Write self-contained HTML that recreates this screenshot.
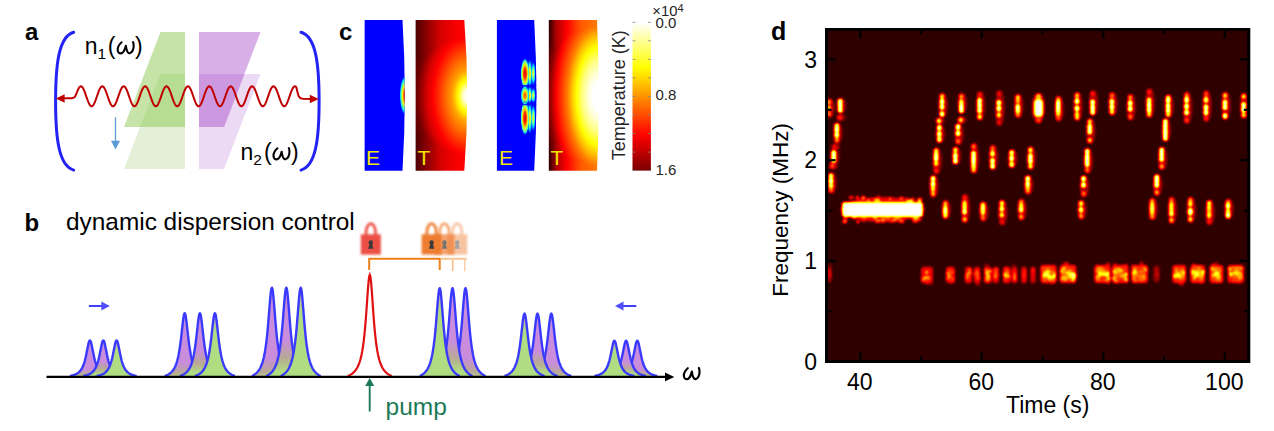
<!DOCTYPE html><html><head><meta charset="utf-8"><style>html,body{margin:0;padding:0;background:#fff;font-family:"Liberation Sans", sans-serif;}svg{display:block;}</style></head><body><svg width="1274" height="431" viewBox="0 0 1274 431"><defs><linearGradient id="gp1" x1="0" y1="0" x2="0" y2="1"><stop offset="0" stop-color="#c98ddc"/><stop offset="0.8" stop-color="#c98ddc"/><stop offset="0.95" stop-color="#b8aa94"/><stop offset="1" stop-color="#bcc48e"/></linearGradient><linearGradient id="gp2" x1="0" y1="0" x2="0" y2="1"><stop offset="0" stop-color="#c98ddc"/><stop offset="0.6" stop-color="#c98ddc"/><stop offset="0.8" stop-color="#b8aa94"/><stop offset="0.95" stop-color="#b0dd82"/><stop offset="1" stop-color="#b0dd82"/></linearGradient><linearGradient id="gp3" x1="0" y1="0" x2="0" y2="1"><stop offset="0" stop-color="#c7a6c4"/><stop offset="0.12" stop-color="#c0b6a8"/><stop offset="0.25" stop-color="#b0dd82"/><stop offset="1" stop-color="#b0dd82"/></linearGradient><linearGradient id="gq1" x1="0" y1="0" x2="0" y2="1"><stop offset="0" stop-color="#c7a6c4"/><stop offset="0.12" stop-color="#c0b6a8"/><stop offset="0.25" stop-color="#b0dd82"/><stop offset="1" stop-color="#b0dd82"/></linearGradient><linearGradient id="gq2" x1="0" y1="0" x2="0" y2="1"><stop offset="0" stop-color="#c98ddc"/><stop offset="0.6" stop-color="#c98ddc"/><stop offset="0.8" stop-color="#b8aa94"/><stop offset="0.95" stop-color="#b0dd82"/><stop offset="1" stop-color="#b0dd82"/></linearGradient><linearGradient id="gq3" x1="0" y1="0" x2="0" y2="1"><stop offset="0" stop-color="#c98ddc"/><stop offset="0.8" stop-color="#c98ddc"/><stop offset="0.95" stop-color="#b8aa94"/><stop offset="1" stop-color="#bcc48e"/></linearGradient><filter id="blur1" x="-20%" y="-20%" width="140%" height="140%"><feGaussianBlur stdDeviation="0.9"/></filter><clipPath id="ce1"><path d="M364.6,19.9 L402.5,19.9 Q407.1,95.3 402.5,170.7 L364.6,170.7 Z"/></clipPath><clipPath id="ce2"><path d="M496.9,19.9 L534.2,19.9 Q538.5999999999999,95.3 534.2,170.7 L496.9,170.7 Z"/></clipPath><clipPath id="ct1"><path d="M415.6,19.9 L464.3,19.9 Q470.09999999999997,95.3 464.3,170.7 L415.6,170.7 Z"/></clipPath><clipPath id="ct2"><path d="M548.8,19.9 L597,19.9 Q600.5999999999999,95.3 597,170.7 L548.8,170.7 Z"/></clipPath><radialGradient id="jg1"><stop offset="0.000" stop-color="#ff3800" stop-opacity="1"/><stop offset="0.300" stop-color="#ff8000" stop-opacity="1"/><stop offset="0.450" stop-color="#fffa00" stop-opacity="1"/><stop offset="0.600" stop-color="#8aff75" stop-opacity="1"/><stop offset="0.800" stop-color="#00e5ff" stop-opacity="1"/><stop offset="1.000" stop-color="#0000ff" stop-opacity="0"/></radialGradient><radialGradient id="jg1b"><stop offset="0.000" stop-color="#e50000" stop-opacity="1"/><stop offset="0.300" stop-color="#ff2e00" stop-opacity="1"/><stop offset="0.450" stop-color="#ffa800" stop-opacity="1"/><stop offset="0.600" stop-color="#dbff24" stop-opacity="1"/><stop offset="0.800" stop-color="#38ffc7" stop-opacity="1"/><stop offset="1.000" stop-color="#0000ff" stop-opacity="0"/></radialGradient><radialGradient id="jg2"><stop offset="0.000" stop-color="#ff4c00" stop-opacity="1"/><stop offset="0.300" stop-color="#ff9400" stop-opacity="1"/><stop offset="0.450" stop-color="#f0ff0f" stop-opacity="1"/><stop offset="0.600" stop-color="#75ff8a" stop-opacity="1"/><stop offset="0.800" stop-color="#00d1ff" stop-opacity="1"/><stop offset="1.000" stop-color="#0000ff" stop-opacity="0"/></radialGradient><radialGradient id="jg3"><stop offset="0.000" stop-color="#ffc700" stop-opacity="1"/><stop offset="0.300" stop-color="#f0ff0f" stop-opacity="1"/><stop offset="0.450" stop-color="#75ff8a" stop-opacity="1"/><stop offset="0.600" stop-color="#00faff" stop-opacity="1"/><stop offset="0.800" stop-color="#0057ff" stop-opacity="1"/><stop offset="1.000" stop-color="#0000ff" stop-opacity="0"/></radialGradient><radialGradient id="jg4"><stop offset="0.000" stop-color="#e5ff1a" stop-opacity="1"/><stop offset="0.300" stop-color="#9eff61" stop-opacity="1"/><stop offset="0.450" stop-color="#24ffdb" stop-opacity="1"/><stop offset="0.600" stop-color="#00a8ff" stop-opacity="1"/><stop offset="0.800" stop-color="#0005ff" stop-opacity="1"/><stop offset="1.000" stop-color="#0000ff" stop-opacity="0"/></radialGradient><radialGradient id="jg5"><stop offset="0.000" stop-color="#80ff80" stop-opacity="1"/><stop offset="0.300" stop-color="#38ffc7" stop-opacity="1"/><stop offset="0.450" stop-color="#00bdff" stop-opacity="1"/><stop offset="0.600" stop-color="#0042ff" stop-opacity="1"/><stop offset="0.800" stop-color="#0000ff" stop-opacity="1"/><stop offset="1.000" stop-color="#0000ff" stop-opacity="0"/></radialGradient><radialGradient id="ht1" gradientUnits="userSpaceOnUse" cx="467.2" cy="96" r="70" gradientTransform="translate(467.2 96) scale(1 1.7) translate(-467.2 -96)"><stop offset="0.0000" stop-color="#ffffff"/><stop offset="0.0500" stop-color="#ffffe0"/><stop offset="0.0857" stop-color="#ffff7a"/><stop offset="0.1286" stop-color="#ffff00"/><stop offset="0.2143" stop-color="#ffa000"/><stop offset="0.3086" stop-color="#ff6a00"/><stop offset="0.4043" stop-color="#ff3000"/><stop offset="0.4886" stop-color="#ff0000"/><stop offset="0.5743" stop-color="#d80000"/><stop offset="0.6471" stop-color="#a00000"/><stop offset="0.7143" stop-color="#700000"/><stop offset="0.8571" stop-color="#440000"/><stop offset="1.0000" stop-color="#220000"/></radialGradient><radialGradient id="ht2" gradientUnits="userSpaceOnUse" cx="598.6" cy="96" r="70" gradientTransform="translate(598.6 96) scale(1 2.2) translate(-598.6 -96)"><stop offset="0.0000" stop-color="#ffffff"/><stop offset="0.0857" stop-color="#ffffff"/><stop offset="0.1486" stop-color="#ffffd6"/><stop offset="0.2329" stop-color="#ffff80"/><stop offset="0.3171" stop-color="#ffff00"/><stop offset="0.3814" stop-color="#ffc200"/><stop offset="0.4443" stop-color="#ff7e00"/><stop offset="0.5186" stop-color="#ff4100"/><stop offset="0.6043" stop-color="#ff0000"/><stop offset="0.6571" stop-color="#be0000"/><stop offset="0.7057" stop-color="#810000"/><stop offset="0.7857" stop-color="#440000"/><stop offset="0.8857" stop-color="#140000"/><stop offset="1.0000" stop-color="#000000"/></radialGradient><linearGradient id="fl1" gradientUnits="userSpaceOnUse" x1="415.6" y1="0" x2="467.5" y2="0"><stop offset="0.000" stop-color="#4b0000"/><stop offset="0.181" stop-color="#810000"/><stop offset="0.470" stop-color="#d30000"/><stop offset="0.759" stop-color="#f50000"/><stop offset="1.000" stop-color="#ff0300"/></linearGradient><linearGradient id="fl2" gradientUnits="userSpaceOnUse" x1="548.8" y1="0" x2="598.8" y2="0"><stop offset="0.000" stop-color="#290000"/><stop offset="0.144" stop-color="#aa0000"/><stop offset="0.364" stop-color="#ff0000"/><stop offset="0.624" stop-color="#ff5500"/><stop offset="1.000" stop-color="#ff7e00"/></linearGradient><linearGradient id="cbar" x1="0" y1="0" x2="0" y2="1"><stop offset="0.0" stop-color="#ffffff"/><stop offset="0.05" stop-color="#ffffd5"/><stop offset="0.1" stop-color="#ffffab"/><stop offset="0.15" stop-color="#ffff82"/><stop offset="0.2" stop-color="#ffff58"/><stop offset="0.25" stop-color="#ffff2e"/><stop offset="0.3" stop-color="#ffff04"/><stop offset="0.35" stop-color="#ffe600"/><stop offset="0.4" stop-color="#ffca00"/><stop offset="0.45" stop-color="#ffae00"/><stop offset="0.5" stop-color="#ff9200"/><stop offset="0.55" stop-color="#ff7600"/><stop offset="0.6" stop-color="#ff5a00"/><stop offset="0.65" stop-color="#ff3f00"/><stop offset="0.7" stop-color="#ff2300"/><stop offset="0.75" stop-color="#ff0700"/><stop offset="0.8" stop-color="#ea0000"/><stop offset="0.85" stop-color="#ce0000"/><stop offset="0.9" stop-color="#b20000"/><stop offset="0.95" stop-color="#960000"/><stop offset="1.0" stop-color="#7a0000"/></linearGradient><filter id="hotmap" x="826.5" y="29.5" width="422.29999999999995" height="332.0" filterUnits="userSpaceOnUse" color-interpolation-filters="sRGB"><feGaussianBlur stdDeviation="1.05"/><feComponentTransfer><feFuncR type="table" tableValues="0.187 0.249 0.311 0.373 0.435 0.497 0.559 0.621 0.683 0.745 0.807 0.869 0.931 0.993 1.000 1.000 1.000 1.000 1.000 1.000 1.000 1.000 1.000 1.000 1.000 1.000 1.000 1.000 1.000 1.000 1.000 1.000 1.000 1.000 1.000 1.000 1.000 1.000 1.000 1.000 1.000"/><feFuncG type="table" tableValues="0.000 0.000 0.000 0.000 0.000 0.000 0.000 0.000 0.000 0.000 0.000 0.000 0.000 0.000 0.055 0.117 0.179 0.241 0.303 0.365 0.427 0.489 0.551 0.613 0.675 0.737 0.799 0.861 0.923 0.985 1.000 1.000 1.000 1.000 1.000 1.000 1.000 1.000 1.000 1.000 1.000"/><feFuncB type="table" tableValues="0.000 0.000 0.000 0.000 0.000 0.000 0.000 0.000 0.000 0.000 0.000 0.000 0.000 0.000 0.000 0.000 0.000 0.000 0.000 0.000 0.000 0.000 0.000 0.000 0.000 0.000 0.000 0.000 0.000 0.000 0.070 0.163 0.256 0.349 0.442 0.535 0.628 0.721 0.814 0.907 1.000"/><feFuncA type="table" tableValues="1 1"/></feComponentTransfer></filter></defs><text x="25" y="39.5" font-family="Liberation Sans, sans-serif" font-weight="bold" font-size="24" fill="#000">a</text><polygon points="160.5,74 185,74 185,169 124,169" fill="#e3f0d7" /><polygon points="160.5,32 185,32 185,127 124,127" fill="#c6e3a8" /><clipPath id="cga"><polygon points="160.5,32 185,32 185,127 124,127" fill="#000" /></clipPath><g clip-path="url(#cga)"><polygon points="160.5,74 185,74 185,169 124,169" fill="#b6dd92" /></g><polygon points="199,74 260.5,74 224,169 199,169" fill="#ecd9f4" /><polygon points="199,32 260.5,32 224,127 199,127" fill="#d8b0e7" /><clipPath id="cpa"><polygon points="199,32 260.5,32 224,127 199,127" fill="#000" /></clipPath><g clip-path="url(#cpa)"><polygon points="199,74 260.5,74 224,169 199,169" fill="#cc99e1" /></g><path d="M73.7,32.3 C58.6,36.5 55.6,64.6 55.6,101.2 C55.6,137.8 58.6,165.9 73.7,170.1" fill="none" stroke="#2323f5" stroke-width="3" stroke-linecap="round"/><path d="M301,32.3 C316.1,36.5 319.1,64.6 319.1,101.2 C319.1,137.8 316.1,165.9 301,170.1" fill="none" stroke="#2323f5" stroke-width="3" stroke-linecap="round"/><path d="M63,98.3 L71.5,98.3 C75,98.3 75.5,96 76.8,92.5 L76.80,92.71 L77.30,91.38 L77.80,90.16 L78.30,89.07 L78.80,88.14 L79.30,87.38 L79.80,86.82 L80.30,86.45 L80.80,86.30 L81.30,86.37 L81.80,86.65 L82.30,87.13 L82.80,87.82 L83.30,88.68 L83.80,89.71 L84.30,90.88 L84.80,92.17 L85.30,93.55 L85.80,94.98 L86.30,96.45 L86.80,97.91 L87.30,99.33 L87.80,100.70 L88.30,101.96 L88.80,103.11 L89.30,104.11 L89.80,104.94 L90.30,105.58 L90.80,106.03 L91.30,106.26 L91.80,106.28 L92.30,106.09 L92.80,105.69 L93.30,105.08 L93.80,104.29 L94.30,103.32 L94.80,102.20 L95.30,100.96 L95.80,99.61 L96.30,98.20 L96.80,96.74 L97.30,95.27 L97.80,93.83 L98.30,92.44 L98.80,91.13 L99.30,89.93 L99.80,88.88 L100.30,87.98 L100.80,87.25 L101.30,86.73 L101.80,86.41 L102.30,86.30 L102.80,86.41 L103.30,86.73 L103.80,87.25 L104.30,87.98 L104.80,88.88 L105.30,89.93 L105.80,91.13 L106.30,92.44 L106.80,93.83 L107.30,95.27 L107.80,96.74 L108.30,98.20 L108.80,99.61 L109.30,100.96 L109.80,102.20 L110.30,103.32 L110.80,104.29 L111.30,105.08 L111.80,105.69 L112.30,106.09 L112.80,106.28 L113.30,106.26 L113.80,106.03 L114.30,105.58 L114.80,104.94 L115.30,104.11 L115.80,103.11 L116.30,101.96 L116.80,100.70 L117.30,99.33 L117.80,97.91 L118.30,96.45 L118.80,94.98 L119.30,93.55 L119.80,92.17 L120.30,90.88 L120.80,89.71 L121.30,88.68 L121.80,87.82 L122.30,87.13 L122.80,86.65 L123.30,86.37 L123.80,86.30 L124.30,86.45 L124.80,86.82 L125.30,87.38 L125.80,88.14 L126.30,89.07 L126.80,90.16 L127.30,91.38 L127.80,92.71 L128.30,94.12 L128.80,95.57 L129.30,97.03 L129.80,98.48 L130.30,99.89 L130.80,101.22 L131.30,102.44 L131.80,103.53 L132.30,104.46 L132.80,105.22 L133.30,105.78 L133.80,106.15 L134.30,106.30 L134.80,106.23 L135.30,105.95 L135.80,105.47 L136.30,104.78 L136.80,103.92 L137.30,102.89 L137.80,101.72 L138.30,100.43 L138.80,99.05 L139.30,97.62 L139.80,96.15 L140.30,94.69 L140.80,93.27 L141.30,91.90 L141.80,90.64 L142.30,89.49 L142.80,88.49 L143.30,87.66 L143.80,87.02 L144.30,86.57 L144.80,86.34 L145.30,86.32 L145.80,86.51 L146.30,86.91 L146.80,87.52 L147.30,88.31 L147.80,89.28 L148.30,90.40 L148.80,91.64 L149.30,92.99 L149.80,94.40 L150.30,95.86 L150.80,97.33 L151.30,98.77 L151.80,100.16 L152.30,101.47 L152.80,102.67 L153.30,103.72 L153.80,104.62 L154.30,105.35 L154.80,105.87 L155.30,106.19 L155.80,106.30 L156.30,106.19 L156.80,105.87 L157.30,105.35 L157.80,104.62 L158.30,103.72 L158.80,102.67 L159.30,101.47 L159.80,100.16 L160.30,98.77 L160.80,97.33 L161.30,95.86 L161.80,94.40 L162.30,92.99 L162.80,91.64 L163.30,90.40 L163.80,89.28 L164.30,88.31 L164.80,87.52 L165.30,86.91 L165.80,86.51 L166.30,86.32 L166.80,86.34 L167.30,86.57 L167.80,87.02 L168.30,87.66 L168.80,88.49 L169.30,89.49 L169.80,90.64 L170.30,91.90 L170.80,93.27 L171.30,94.69 L171.80,96.15 L172.30,97.62 L172.80,99.05 L173.30,100.43 L173.80,101.72 L174.30,102.89 L174.80,103.92 L175.30,104.78 L175.80,105.47 L176.30,105.95 L176.80,106.23 L177.30,106.30 L177.80,106.15 L178.30,105.78 L178.80,105.22 L179.30,104.46 L179.80,103.53 L180.30,102.44 L180.80,101.22 L181.30,99.89 L181.80,98.48 L182.30,97.03 L182.80,95.57 L183.30,94.12 L183.80,92.71 L184.30,91.38 L184.80,90.16 L185.30,89.07 L185.80,88.14 L186.30,87.38 L186.80,86.82 L187.30,86.45 L187.80,86.30 L188.30,86.37 L188.80,86.65 L189.30,87.13 L189.80,87.82 L190.30,88.68 L190.80,89.71 L191.30,90.88 L191.80,92.17 L192.30,93.55 L192.80,94.98 L193.30,96.45 L193.80,97.91 L194.30,99.33 L194.80,100.70 L195.30,101.96 L195.80,103.11 L196.30,104.11 L196.80,104.94 L197.30,105.58 L197.80,106.03 L198.30,106.26 L198.80,106.28 L199.30,106.09 L199.80,105.69 L200.30,105.08 L200.80,104.29 L201.30,103.32 L201.80,102.20 L202.30,100.96 L202.80,99.61 L203.30,98.20 L203.80,96.74 L204.30,95.27 L204.80,93.83 L205.30,92.44 L205.80,91.13 L206.30,89.93 L206.80,88.88 L207.30,87.98 L207.80,87.25 L208.30,86.73 L208.80,86.41 L209.30,86.30 L209.80,86.41 L210.30,86.73 L210.80,87.25 L211.30,87.98 L211.80,88.88 L212.30,89.93 L212.80,91.13 L213.30,92.44 L213.80,93.83 L214.30,95.27 L214.80,96.74 L215.30,98.20 L215.80,99.61 L216.30,100.96 L216.80,102.20 L217.30,103.32 L217.80,104.29 L218.30,105.08 L218.80,105.69 L219.30,106.09 L219.80,106.28 L220.30,106.26 L220.80,106.03 L221.30,105.58 L221.80,104.94 L222.30,104.11 L222.80,103.11 L223.30,101.96 L223.80,100.70 L224.30,99.33 L224.80,97.91 L225.30,96.45 L225.80,94.98 L226.30,93.55 L226.80,92.17 L227.30,90.88 L227.80,89.71 L228.30,88.68 L228.80,87.82 L229.30,87.13 L229.80,86.65 L230.30,86.37 L230.80,86.30 L231.30,86.45 L231.80,86.82 L232.30,87.38 L232.80,88.14 L233.30,89.07 L233.80,90.16 L234.30,91.38 L234.80,92.71 L235.30,94.12 L235.80,95.57 L236.30,97.03 L236.80,98.48 L237.30,99.89 L237.80,101.22 L238.30,102.44 L238.80,103.53 L239.30,104.46 L239.80,105.22 L240.30,105.78 L240.80,106.15 L241.30,106.30 L241.80,106.23 L242.30,105.95 L242.80,105.47 L243.30,104.78 L243.80,103.92 L244.30,102.89 L244.80,101.72 L245.30,100.43 L245.80,99.05 L246.30,97.62 L246.80,96.15 L247.30,94.69 L247.80,93.27 L248.30,91.90 L248.80,90.64 L249.30,89.49 L249.80,88.49 L250.30,87.66 L250.80,87.02 L251.30,86.57 L251.80,86.34 L252.30,86.32 L252.80,86.51 L253.30,86.91 L253.80,87.52 L254.30,88.31 L254.80,89.28 L255.30,90.40 L255.80,91.64 L256.30,92.99 L256.80,94.40 L257.30,95.86 L257.80,97.33 L258.30,98.77 L258.80,100.16 L259.30,101.47 L259.80,102.67 L260.30,103.72 L260.80,104.62 L261.30,105.35 L261.80,105.87 L262.30,106.19 L262.80,106.30 L263.30,106.19 L263.80,105.87 L264.30,105.35 L264.80,104.62 L265.30,103.72 L265.80,102.67 L266.30,101.47 L266.80,100.16 L267.30,98.77 L267.80,97.33 L268.30,95.86 L268.80,94.40 L269.30,92.99 L269.80,91.64 L270.30,90.40 L270.80,89.28 L271.30,88.31 L271.80,87.52 L272.30,86.91 L272.80,86.51 L273.30,86.32 L273.80,86.34 L274.30,86.57 L274.80,87.02 L275.30,87.66 L275.80,88.49 L276.30,89.49 L276.80,90.64 L277.30,91.90 L277.80,93.27 L278.30,94.69 L278.80,96.15 L279.30,97.62 L279.80,99.05 L280.30,100.43 L280.80,101.72 L281.30,102.89 L281.80,103.92 L282.30,104.78 L282.80,105.47 L283.30,105.95 L283.80,106.23 L284.30,106.30 L284.80,106.15 L285.30,105.78 L285.80,105.22 L286.30,104.46 L286.80,103.53 L287.30,102.44 L287.80,101.22 L288.30,99.89 L288.80,98.48 L289.30,97.03 L289.80,95.57 L290.30,94.12 L290.80,92.71 L291.30,91.38 L291.80,90.16 L292.30,89.07 L292.80,88.14 L293.30,87.38 L293.80,86.82 L294.30,86.45 L294.80,86.30 L295.30,86.37 L295.80,86.65 L296.30,87.13 C298.5,97 299,98.5 302.5,98.8 L311,99" fill="none" stroke="#c00000" stroke-width="2" stroke-linejoin="round"/><polygon points="55.9,98.6 64.6,94.3 64.6,102.8" fill="#c00000"/><polygon points="318.8,99 309.8,94.7 309.8,103.3" fill="#c00000"/><line x1="115.5" y1="117.3" x2="115.5" y2="142" stroke="#5b9bd5" stroke-width="1.3"/><polygon points="111,140.7 120,140.7 115.5,149.5" fill="#5b9bd5"/><text x="84.8" y="54" font-family="Liberation Sans, sans-serif" font-size="23" fill="#000">n<tspan font-size="15.5" dy="4.6">1</tspan><tspan dy="-4.6" dx="1.6">(</tspan><tspan dx="19.5">)</tspan></text><path d="M121.67,42.30 C119.42,44.12 117.61,47.33 117.71,50.01 C117.82,52.68 119.42,53.43 121.03,53.33 C123.17,53.22 124.77,50.01 125.84,45.73 C126.38,50.01 127.45,53.43 129.59,53.33 C132.26,53.01 133.87,48.94 133.66,45.19 C133.55,43.59 133.23,42.52 133.01,42.09" fill="none" stroke="#000" stroke-width="2.1" stroke-linecap="round" stroke-linejoin="round"/><text x="240.5" y="160" font-family="Liberation Sans, sans-serif" font-size="23" fill="#000">n<tspan font-size="15.5" dy="4.6">2</tspan><tspan dy="-4.6" dx="2.0">(</tspan><tspan dx="19.5">)</tspan></text><path d="M277.47,148.30 C275.22,150.12 273.41,153.33 273.51,156.01 C273.62,158.68 275.22,159.43 276.83,159.33 C278.97,159.22 280.57,156.01 281.64,151.73 C282.18,156.01 283.25,159.43 285.39,159.33 C288.06,159.00 289.67,154.94 289.46,151.19 C289.35,149.59 289.03,148.52 288.81,148.09" fill="none" stroke="#000" stroke-width="2.1" stroke-linecap="round" stroke-linejoin="round"/><text x="24.5" y="231" font-family="Liberation Sans, sans-serif" font-weight="bold" font-size="24" fill="#000">b</text><text x="66" y="230" font-family="Liberation Sans, sans-serif" font-size="24.4" fill="#000">dynamic dispersion control</text><path d="M69.90,376.00 L70.40,375.90 L70.90,375.80 L71.40,375.69 L71.90,375.57 L72.40,375.44 L72.90,375.30 L73.40,375.15 L73.90,374.98 L74.40,374.80 L74.90,374.61 L75.40,374.39 L75.90,374.16 L76.40,373.90 L76.90,373.62 L77.40,373.31 L77.90,372.97 L78.40,372.59 L78.90,372.17 L79.40,371.70 L79.90,371.17 L80.40,370.58 L80.90,369.92 L81.40,369.17 L81.90,368.33 L82.40,367.37 L82.90,366.29 L83.40,365.07 L83.90,363.68 L84.40,362.11 L84.90,360.34 L85.40,358.37 L85.90,356.18 L86.40,353.80 L86.90,351.27 L87.40,348.68 L87.90,346.16 L88.40,343.87 L88.90,342.03 L89.40,340.82 L89.90,340.40 L90.40,340.82 L90.90,342.03 L91.40,343.87 L91.90,346.16 L92.40,348.68 L92.90,351.27 L93.40,353.80 L93.90,356.18 L94.40,358.37 L94.90,360.34 L95.40,362.11 L95.90,363.68 L96.40,365.07 L96.90,366.29 L97.40,367.37 L97.90,368.33 L98.40,369.17 L98.90,369.92 L99.40,370.58 L99.90,371.17 L100.40,371.70 L100.90,372.17 L101.40,372.59 L101.90,372.97 L102.40,373.31 L102.90,373.62 L103.40,373.90 L103.90,374.16 L104.40,374.39 L104.90,374.61 L105.40,374.80 L105.90,374.98 L106.40,375.15 L106.90,375.30 L107.40,375.44 L107.90,375.57 L108.40,375.69 L108.90,375.80 L109.40,375.90 L109.90,376.00" fill="url(#gp1)" stroke="#3a3aff" stroke-width="2.4" stroke-linejoin="round"/><path d="M83.30,376.00 L83.80,375.90 L84.30,375.80 L84.80,375.69 L85.30,375.57 L85.80,375.44 L86.30,375.30 L86.80,375.15 L87.30,374.98 L87.80,374.80 L88.30,374.61 L88.80,374.39 L89.30,374.16 L89.80,373.90 L90.30,373.62 L90.80,373.31 L91.30,372.97 L91.80,372.59 L92.30,372.17 L92.80,371.70 L93.30,371.17 L93.80,370.58 L94.30,369.92 L94.80,369.17 L95.30,368.33 L95.80,367.37 L96.30,366.29 L96.80,365.07 L97.30,363.68 L97.80,362.11 L98.30,360.34 L98.80,358.37 L99.30,356.18 L99.80,353.80 L100.30,351.27 L100.80,348.68 L101.30,346.16 L101.80,343.87 L102.30,342.03 L102.80,340.82 L103.30,340.40 L103.80,340.82 L104.30,342.03 L104.80,343.87 L105.30,346.16 L105.80,348.68 L106.30,351.27 L106.80,353.80 L107.30,356.18 L107.80,358.37 L108.30,360.34 L108.80,362.11 L109.30,363.68 L109.80,365.07 L110.30,366.29 L110.80,367.37 L111.30,368.33 L111.80,369.17 L112.30,369.92 L112.80,370.58 L113.30,371.17 L113.80,371.70 L114.30,372.17 L114.80,372.59 L115.30,372.97 L115.80,373.31 L116.30,373.62 L116.80,373.90 L117.30,374.16 L117.80,374.39 L118.30,374.61 L118.80,374.80 L119.30,374.98 L119.80,375.15 L120.30,375.30 L120.80,375.44 L121.30,375.57 L121.80,375.69 L122.30,375.80 L122.80,375.90 L123.30,376.00" fill="url(#gp2)" stroke="#3a3aff" stroke-width="2.4" stroke-linejoin="round"/><path d="M96.60,376.00 L97.10,375.90 L97.60,375.80 L98.10,375.69 L98.60,375.57 L99.10,375.44 L99.60,375.30 L100.10,375.15 L100.60,374.98 L101.10,374.80 L101.60,374.61 L102.10,374.39 L102.60,374.16 L103.10,373.90 L103.60,373.62 L104.10,373.31 L104.60,372.97 L105.10,372.59 L105.60,372.17 L106.10,371.70 L106.60,371.17 L107.10,370.58 L107.60,369.92 L108.10,369.17 L108.60,368.33 L109.10,367.37 L109.60,366.29 L110.10,365.07 L110.60,363.68 L111.10,362.11 L111.60,360.34 L112.10,358.37 L112.60,356.18 L113.10,353.80 L113.60,351.27 L114.10,348.68 L114.60,346.16 L115.10,343.87 L115.60,342.03 L116.10,340.82 L116.60,340.40 L117.10,340.82 L117.60,342.03 L118.10,343.87 L118.60,346.16 L119.10,348.68 L119.60,351.27 L120.10,353.80 L120.60,356.18 L121.10,358.37 L121.60,360.34 L122.10,362.11 L122.60,363.68 L123.10,365.07 L123.60,366.29 L124.10,367.37 L124.60,368.33 L125.10,369.17 L125.60,369.92 L126.10,370.58 L126.60,371.17 L127.10,371.70 L127.60,372.17 L128.10,372.59 L128.60,372.97 L129.10,373.31 L129.60,373.62 L130.10,373.90 L130.60,374.16 L131.10,374.39 L131.60,374.61 L132.10,374.80 L132.60,374.98 L133.10,375.15 L133.60,375.30 L134.10,375.44 L134.60,375.57 L135.10,375.69 L135.60,375.80 L136.10,375.90 L136.60,376.00" fill="url(#gp3)" stroke="#3a3aff" stroke-width="2.4" stroke-linejoin="round"/><path d="M164.70,376.00 L165.20,375.83 L165.70,375.65 L166.20,375.45 L166.70,375.24 L167.20,375.01 L167.70,374.76 L168.20,374.49 L168.70,374.20 L169.20,373.89 L169.70,373.54 L170.20,373.17 L170.70,372.76 L171.20,372.30 L171.70,371.81 L172.20,371.26 L172.70,370.65 L173.20,369.98 L173.70,369.24 L174.20,368.41 L174.70,367.48 L175.20,366.44 L175.70,365.27 L176.20,363.95 L176.70,362.46 L177.20,360.78 L177.70,358.88 L178.20,356.72 L178.70,354.27 L179.20,351.50 L179.70,348.38 L180.20,344.89 L180.70,341.04 L181.20,336.84 L181.70,332.38 L182.20,327.81 L182.70,323.36 L183.20,319.33 L183.70,316.07 L184.20,313.94 L184.70,313.20 L185.20,313.94 L185.70,316.07 L186.20,319.33 L186.70,323.36 L187.20,327.81 L187.70,332.38 L188.20,336.84 L188.70,341.04 L189.20,344.89 L189.70,348.38 L190.20,351.50 L190.70,354.27 L191.20,356.72 L191.70,358.88 L192.20,360.78 L192.70,362.46 L193.20,363.95 L193.70,365.27 L194.20,366.44 L194.70,367.48 L195.20,368.41 L195.70,369.24 L196.20,369.98 L196.70,370.65 L197.20,371.26 L197.70,371.81 L198.20,372.30 L198.70,372.76 L199.20,373.17 L199.70,373.54 L200.20,373.89 L200.70,374.20 L201.20,374.49 L201.70,374.76 L202.20,375.01 L202.70,375.24 L203.20,375.45 L203.70,375.65 L204.20,375.83 L204.70,376.00" fill="url(#gp1)" stroke="#3a3aff" stroke-width="2.4" stroke-linejoin="round"/><path d="M179.90,376.00 L180.40,375.83 L180.90,375.65 L181.40,375.45 L181.90,375.24 L182.40,375.01 L182.90,374.76 L183.40,374.49 L183.90,374.20 L184.40,373.89 L184.90,373.54 L185.40,373.17 L185.90,372.76 L186.40,372.30 L186.90,371.81 L187.40,371.26 L187.90,370.65 L188.40,369.98 L188.90,369.24 L189.40,368.41 L189.90,367.48 L190.40,366.44 L190.90,365.27 L191.40,363.95 L191.90,362.46 L192.40,360.78 L192.90,358.88 L193.40,356.72 L193.90,354.27 L194.40,351.50 L194.90,348.38 L195.40,344.89 L195.90,341.04 L196.40,336.84 L196.90,332.38 L197.40,327.81 L197.90,323.36 L198.40,319.33 L198.90,316.07 L199.40,313.94 L199.90,313.20 L200.40,313.94 L200.90,316.07 L201.40,319.33 L201.90,323.36 L202.40,327.81 L202.90,332.38 L203.40,336.84 L203.90,341.04 L204.40,344.89 L204.90,348.38 L205.40,351.50 L205.90,354.27 L206.40,356.72 L206.90,358.88 L207.40,360.78 L207.90,362.46 L208.40,363.95 L208.90,365.27 L209.40,366.44 L209.90,367.48 L210.40,368.41 L210.90,369.24 L211.40,369.98 L211.90,370.65 L212.40,371.26 L212.90,371.81 L213.40,372.30 L213.90,372.76 L214.40,373.17 L214.90,373.54 L215.40,373.89 L215.90,374.20 L216.40,374.49 L216.90,374.76 L217.40,375.01 L217.90,375.24 L218.40,375.45 L218.90,375.65 L219.40,375.83 L219.90,376.00" fill="url(#gp2)" stroke="#3a3aff" stroke-width="2.4" stroke-linejoin="round"/><path d="M194.90,376.00 L195.40,375.83 L195.90,375.65 L196.40,375.45 L196.90,375.24 L197.40,375.01 L197.90,374.76 L198.40,374.49 L198.90,374.20 L199.40,373.89 L199.90,373.54 L200.40,373.17 L200.90,372.76 L201.40,372.30 L201.90,371.81 L202.40,371.26 L202.90,370.65 L203.40,369.98 L203.90,369.24 L204.40,368.41 L204.90,367.48 L205.40,366.44 L205.90,365.27 L206.40,363.95 L206.90,362.46 L207.40,360.78 L207.90,358.88 L208.40,356.72 L208.90,354.27 L209.40,351.50 L209.90,348.38 L210.40,344.89 L210.90,341.04 L211.40,336.84 L211.90,332.38 L212.40,327.81 L212.90,323.36 L213.40,319.33 L213.90,316.07 L214.40,313.94 L214.90,313.20 L215.40,313.94 L215.90,316.07 L216.40,319.33 L216.90,323.36 L217.40,327.81 L217.90,332.38 L218.40,336.84 L218.90,341.04 L219.40,344.89 L219.90,348.38 L220.40,351.50 L220.90,354.27 L221.40,356.72 L221.90,358.88 L222.40,360.78 L222.90,362.46 L223.40,363.95 L223.90,365.27 L224.40,366.44 L224.90,367.48 L225.40,368.41 L225.90,369.24 L226.40,369.98 L226.90,370.65 L227.40,371.26 L227.90,371.81 L228.40,372.30 L228.90,372.76 L229.40,373.17 L229.90,373.54 L230.40,373.89 L230.90,374.20 L231.40,374.49 L231.90,374.76 L232.40,375.01 L232.90,375.24 L233.40,375.45 L233.90,375.65 L234.40,375.83 L234.90,376.00" fill="url(#gp3)" stroke="#3a3aff" stroke-width="2.4" stroke-linejoin="round"/><path d="M251.90,376.00 L252.40,375.76 L252.90,375.50 L253.40,375.23 L253.90,374.93 L254.40,374.61 L254.90,374.26 L255.40,373.88 L255.90,373.47 L256.40,373.03 L256.90,372.55 L257.40,372.02 L257.90,371.44 L258.40,370.80 L258.90,370.11 L259.40,369.34 L259.90,368.48 L260.40,367.54 L260.90,366.49 L261.40,365.32 L261.90,364.02 L262.40,362.55 L262.90,360.91 L263.40,359.06 L263.90,356.97 L264.40,354.60 L264.90,351.92 L265.40,348.89 L265.90,345.44 L266.40,341.55 L266.90,337.17 L267.40,332.26 L267.90,326.84 L268.40,320.94 L268.90,314.67 L269.40,308.25 L269.90,301.99 L270.40,296.31 L270.90,291.74 L271.40,288.74 L271.90,287.70 L272.40,288.74 L272.90,291.74 L273.40,296.31 L273.90,301.99 L274.40,308.25 L274.90,314.67 L275.40,320.94 L275.90,326.84 L276.40,332.26 L276.90,337.17 L277.40,341.55 L277.90,345.44 L278.40,348.89 L278.90,351.92 L279.40,354.60 L279.90,356.97 L280.40,359.06 L280.90,360.91 L281.40,362.55 L281.90,364.02 L282.40,365.32 L282.90,366.49 L283.40,367.54 L283.90,368.48 L284.40,369.34 L284.90,370.11 L285.40,370.80 L285.90,371.44 L286.40,372.02 L286.90,372.55 L287.40,373.03 L287.90,373.47 L288.40,373.88 L288.90,374.26 L289.40,374.61 L289.90,374.93 L290.40,375.23 L290.90,375.50 L291.40,375.76 L291.90,376.00" fill="url(#gp1)" stroke="#3a3aff" stroke-width="2.4" stroke-linejoin="round"/><path d="M266.30,376.00 L266.80,375.76 L267.30,375.50 L267.80,375.23 L268.30,374.93 L268.80,374.61 L269.30,374.26 L269.80,373.88 L270.30,373.47 L270.80,373.03 L271.30,372.55 L271.80,372.02 L272.30,371.44 L272.80,370.80 L273.30,370.11 L273.80,369.34 L274.30,368.48 L274.80,367.54 L275.30,366.49 L275.80,365.32 L276.30,364.02 L276.80,362.55 L277.30,360.91 L277.80,359.06 L278.30,356.97 L278.80,354.60 L279.30,351.92 L279.80,348.89 L280.30,345.44 L280.80,341.55 L281.30,337.17 L281.80,332.26 L282.30,326.84 L282.80,320.94 L283.30,314.67 L283.80,308.25 L284.30,301.99 L284.80,296.31 L285.30,291.74 L285.80,288.74 L286.30,287.70 L286.80,288.74 L287.30,291.74 L287.80,296.31 L288.30,301.99 L288.80,308.25 L289.30,314.67 L289.80,320.94 L290.30,326.84 L290.80,332.26 L291.30,337.17 L291.80,341.55 L292.30,345.44 L292.80,348.89 L293.30,351.92 L293.80,354.60 L294.30,356.97 L294.80,359.06 L295.30,360.91 L295.80,362.55 L296.30,364.02 L296.80,365.32 L297.30,366.49 L297.80,367.54 L298.30,368.48 L298.80,369.34 L299.30,370.11 L299.80,370.80 L300.30,371.44 L300.80,372.02 L301.30,372.55 L301.80,373.03 L302.30,373.47 L302.80,373.88 L303.30,374.26 L303.80,374.61 L304.30,374.93 L304.80,375.23 L305.30,375.50 L305.80,375.76 L306.30,376.00" fill="url(#gp2)" stroke="#3a3aff" stroke-width="2.4" stroke-linejoin="round"/><path d="M280.70,376.00 L281.20,375.76 L281.70,375.50 L282.20,375.23 L282.70,374.93 L283.20,374.61 L283.70,374.26 L284.20,373.88 L284.70,373.47 L285.20,373.03 L285.70,372.55 L286.20,372.02 L286.70,371.44 L287.20,370.80 L287.70,370.11 L288.20,369.34 L288.70,368.48 L289.20,367.54 L289.70,366.49 L290.20,365.32 L290.70,364.02 L291.20,362.55 L291.70,360.91 L292.20,359.06 L292.70,356.97 L293.20,354.60 L293.70,351.92 L294.20,348.89 L294.70,345.44 L295.20,341.55 L295.70,337.17 L296.20,332.26 L296.70,326.84 L297.20,320.94 L297.70,314.67 L298.20,308.25 L298.70,301.99 L299.20,296.31 L299.70,291.74 L300.20,288.74 L300.70,287.70 L301.20,288.74 L301.70,291.74 L302.20,296.31 L302.70,301.99 L303.20,308.25 L303.70,314.67 L304.20,320.94 L304.70,326.84 L305.20,332.26 L305.70,337.17 L306.20,341.55 L306.70,345.44 L307.20,348.89 L307.70,351.92 L308.20,354.60 L308.70,356.97 L309.20,359.06 L309.70,360.91 L310.20,362.55 L310.70,364.02 L311.20,365.32 L311.70,366.49 L312.20,367.54 L312.70,368.48 L313.20,369.34 L313.70,370.11 L314.20,370.80 L314.70,371.44 L315.20,372.02 L315.70,372.55 L316.20,373.03 L316.70,373.47 L317.20,373.88 L317.70,374.26 L318.20,374.61 L318.70,374.93 L319.20,375.23 L319.70,375.50 L320.20,375.76 L320.70,376.00" fill="url(#gp3)" stroke="#3a3aff" stroke-width="2.4" stroke-linejoin="round"/><path d="M445.50,376.00 L446.00,375.76 L446.50,375.51 L447.00,375.23 L447.50,374.94 L448.00,374.62 L448.50,374.27 L449.00,373.90 L449.50,373.49 L450.00,373.05 L450.50,372.57 L451.00,372.04 L451.50,371.46 L452.00,370.83 L452.50,370.14 L453.00,369.37 L453.50,368.53 L454.00,367.59 L454.50,366.55 L455.00,365.38 L455.50,364.09 L456.00,362.63 L456.50,361.00 L457.00,359.15 L457.50,357.08 L458.00,354.72 L458.50,352.06 L459.00,349.04 L459.50,345.62 L460.00,341.75 L460.50,337.39 L461.00,332.51 L461.50,327.12 L462.00,321.25 L462.50,315.02 L463.00,308.63 L463.50,302.40 L464.00,296.76 L464.50,292.21 L465.00,289.24 L465.50,288.20 L466.00,289.24 L466.50,292.21 L467.00,296.76 L467.50,302.40 L468.00,308.63 L468.50,315.02 L469.00,321.25 L469.50,327.12 L470.00,332.51 L470.50,337.39 L471.00,341.75 L471.50,345.62 L472.00,349.04 L472.50,352.06 L473.00,354.72 L473.50,357.08 L474.00,359.15 L474.50,361.00 L475.00,362.63 L475.50,364.09 L476.00,365.38 L476.50,366.55 L477.00,367.59 L477.50,368.53 L478.00,369.37 L478.50,370.14 L479.00,370.83 L479.50,371.46 L480.00,372.04 L480.50,372.57 L481.00,373.05 L481.50,373.49 L482.00,373.90 L482.50,374.27 L483.00,374.62 L483.50,374.94 L484.00,375.23 L484.50,375.51 L485.00,375.76 L485.50,376.00" fill="url(#gq3)" stroke="#3a3aff" stroke-width="2.4" stroke-linejoin="round"/><path d="M432.50,376.00 L433.00,375.76 L433.50,375.51 L434.00,375.23 L434.50,374.94 L435.00,374.62 L435.50,374.27 L436.00,373.90 L436.50,373.49 L437.00,373.05 L437.50,372.57 L438.00,372.04 L438.50,371.46 L439.00,370.83 L439.50,370.14 L440.00,369.37 L440.50,368.53 L441.00,367.59 L441.50,366.55 L442.00,365.38 L442.50,364.09 L443.00,362.63 L443.50,361.00 L444.00,359.15 L444.50,357.08 L445.00,354.72 L445.50,352.06 L446.00,349.04 L446.50,345.62 L447.00,341.75 L447.50,337.39 L448.00,332.51 L448.50,327.12 L449.00,321.25 L449.50,315.02 L450.00,308.63 L450.50,302.40 L451.00,296.76 L451.50,292.21 L452.00,289.24 L452.50,288.20 L453.00,289.24 L453.50,292.21 L454.00,296.76 L454.50,302.40 L455.00,308.63 L455.50,315.02 L456.00,321.25 L456.50,327.12 L457.00,332.51 L457.50,337.39 L458.00,341.75 L458.50,345.62 L459.00,349.04 L459.50,352.06 L460.00,354.72 L460.50,357.08 L461.00,359.15 L461.50,361.00 L462.00,362.63 L462.50,364.09 L463.00,365.38 L463.50,366.55 L464.00,367.59 L464.50,368.53 L465.00,369.37 L465.50,370.14 L466.00,370.83 L466.50,371.46 L467.00,372.04 L467.50,372.57 L468.00,373.05 L468.50,373.49 L469.00,373.90 L469.50,374.27 L470.00,374.62 L470.50,374.94 L471.00,375.23 L471.50,375.51 L472.00,375.76 L472.50,376.00" fill="url(#gq2)" stroke="#3a3aff" stroke-width="2.4" stroke-linejoin="round"/><path d="M419.70,376.00 L420.20,375.76 L420.70,375.51 L421.20,375.23 L421.70,374.94 L422.20,374.62 L422.70,374.27 L423.20,373.90 L423.70,373.49 L424.20,373.05 L424.70,372.57 L425.20,372.04 L425.70,371.46 L426.20,370.83 L426.70,370.14 L427.20,369.37 L427.70,368.53 L428.20,367.59 L428.70,366.55 L429.20,365.38 L429.70,364.09 L430.20,362.63 L430.70,361.00 L431.20,359.15 L431.70,357.08 L432.20,354.72 L432.70,352.06 L433.20,349.04 L433.70,345.62 L434.20,341.75 L434.70,337.39 L435.20,332.51 L435.70,327.12 L436.20,321.25 L436.70,315.02 L437.20,308.63 L437.70,302.40 L438.20,296.76 L438.70,292.21 L439.20,289.24 L439.70,288.20 L440.20,289.24 L440.70,292.21 L441.20,296.76 L441.70,302.40 L442.20,308.63 L442.70,315.02 L443.20,321.25 L443.70,327.12 L444.20,332.51 L444.70,337.39 L445.20,341.75 L445.70,345.62 L446.20,349.04 L446.70,352.06 L447.20,354.72 L447.70,357.08 L448.20,359.15 L448.70,361.00 L449.20,362.63 L449.70,364.09 L450.20,365.38 L450.70,366.55 L451.20,367.59 L451.70,368.53 L452.20,369.37 L452.70,370.14 L453.20,370.83 L453.70,371.46 L454.20,372.04 L454.70,372.57 L455.20,373.05 L455.70,373.49 L456.20,373.90 L456.70,374.27 L457.20,374.62 L457.70,374.94 L458.20,375.23 L458.70,375.51 L459.20,375.76 L459.70,376.00" fill="url(#gq1)" stroke="#3a3aff" stroke-width="2.4" stroke-linejoin="round"/><path d="M531.30,376.00 L531.80,375.83 L532.30,375.65 L532.80,375.45 L533.30,375.24 L533.80,375.02 L534.30,374.77 L534.80,374.50 L535.30,374.22 L535.80,373.90 L536.30,373.56 L536.80,373.19 L537.30,372.78 L537.80,372.33 L538.30,371.83 L538.80,371.29 L539.30,370.69 L539.80,370.02 L540.30,369.28 L540.80,368.46 L541.30,367.53 L541.80,366.50 L542.30,365.34 L542.80,364.03 L543.30,362.55 L543.80,360.88 L544.30,358.99 L544.80,356.84 L545.30,354.41 L545.80,351.66 L546.30,348.56 L546.80,345.09 L547.30,341.26 L547.80,337.09 L548.30,332.66 L548.80,328.12 L549.30,323.70 L549.80,319.69 L550.30,316.45 L550.80,314.34 L551.30,313.60 L551.80,314.34 L552.30,316.45 L552.80,319.69 L553.30,323.70 L553.80,328.12 L554.30,332.66 L554.80,337.09 L555.30,341.26 L555.80,345.09 L556.30,348.56 L556.80,351.66 L557.30,354.41 L557.80,356.84 L558.30,358.99 L558.80,360.88 L559.30,362.55 L559.80,364.03 L560.30,365.34 L560.80,366.50 L561.30,367.53 L561.80,368.46 L562.30,369.28 L562.80,370.02 L563.30,370.69 L563.80,371.29 L564.30,371.83 L564.80,372.33 L565.30,372.78 L565.80,373.19 L566.30,373.56 L566.80,373.90 L567.30,374.22 L567.80,374.50 L568.30,374.77 L568.80,375.02 L569.30,375.24 L569.80,375.45 L570.30,375.65 L570.80,375.83 L571.30,376.00" fill="url(#gq3)" stroke="#3a3aff" stroke-width="2.4" stroke-linejoin="round"/><path d="M517.50,376.00 L518.00,375.83 L518.50,375.65 L519.00,375.45 L519.50,375.24 L520.00,375.02 L520.50,374.77 L521.00,374.50 L521.50,374.22 L522.00,373.90 L522.50,373.56 L523.00,373.19 L523.50,372.78 L524.00,372.33 L524.50,371.83 L525.00,371.29 L525.50,370.69 L526.00,370.02 L526.50,369.28 L527.00,368.46 L527.50,367.53 L528.00,366.50 L528.50,365.34 L529.00,364.03 L529.50,362.55 L530.00,360.88 L530.50,358.99 L531.00,356.84 L531.50,354.41 L532.00,351.66 L532.50,348.56 L533.00,345.09 L533.50,341.26 L534.00,337.09 L534.50,332.66 L535.00,328.12 L535.50,323.70 L536.00,319.69 L536.50,316.45 L537.00,314.34 L537.50,313.60 L538.00,314.34 L538.50,316.45 L539.00,319.69 L539.50,323.70 L540.00,328.12 L540.50,332.66 L541.00,337.09 L541.50,341.26 L542.00,345.09 L542.50,348.56 L543.00,351.66 L543.50,354.41 L544.00,356.84 L544.50,358.99 L545.00,360.88 L545.50,362.55 L546.00,364.03 L546.50,365.34 L547.00,366.50 L547.50,367.53 L548.00,368.46 L548.50,369.28 L549.00,370.02 L549.50,370.69 L550.00,371.29 L550.50,371.83 L551.00,372.33 L551.50,372.78 L552.00,373.19 L552.50,373.56 L553.00,373.90 L553.50,374.22 L554.00,374.50 L554.50,374.77 L555.00,375.02 L555.50,375.24 L556.00,375.45 L556.50,375.65 L557.00,375.83 L557.50,376.00" fill="url(#gq2)" stroke="#3a3aff" stroke-width="2.4" stroke-linejoin="round"/><path d="M504.50,376.00 L505.00,375.83 L505.50,375.65 L506.00,375.45 L506.50,375.24 L507.00,375.02 L507.50,374.77 L508.00,374.50 L508.50,374.22 L509.00,373.90 L509.50,373.56 L510.00,373.19 L510.50,372.78 L511.00,372.33 L511.50,371.83 L512.00,371.29 L512.50,370.69 L513.00,370.02 L513.50,369.28 L514.00,368.46 L514.50,367.53 L515.00,366.50 L515.50,365.34 L516.00,364.03 L516.50,362.55 L517.00,360.88 L517.50,358.99 L518.00,356.84 L518.50,354.41 L519.00,351.66 L519.50,348.56 L520.00,345.09 L520.50,341.26 L521.00,337.09 L521.50,332.66 L522.00,328.12 L522.50,323.70 L523.00,319.69 L523.50,316.45 L524.00,314.34 L524.50,313.60 L525.00,314.34 L525.50,316.45 L526.00,319.69 L526.50,323.70 L527.00,328.12 L527.50,332.66 L528.00,337.09 L528.50,341.26 L529.00,345.09 L529.50,348.56 L530.00,351.66 L530.50,354.41 L531.00,356.84 L531.50,358.99 L532.00,360.88 L532.50,362.55 L533.00,364.03 L533.50,365.34 L534.00,366.50 L534.50,367.53 L535.00,368.46 L535.50,369.28 L536.00,370.02 L536.50,370.69 L537.00,371.29 L537.50,371.83 L538.00,372.33 L538.50,372.78 L539.00,373.19 L539.50,373.56 L540.00,373.90 L540.50,374.22 L541.00,374.50 L541.50,374.77 L542.00,375.02 L542.50,375.24 L543.00,375.45 L543.50,375.65 L544.00,375.83 L544.50,376.00" fill="url(#gq1)" stroke="#3a3aff" stroke-width="2.4" stroke-linejoin="round"/><path d="M617.30,376.00 L617.80,375.90 L618.30,375.80 L618.80,375.69 L619.30,375.57 L619.80,375.44 L620.30,375.30 L620.80,375.15 L621.30,374.99 L621.80,374.81 L622.30,374.62 L622.80,374.41 L623.30,374.18 L623.80,373.92 L624.30,373.64 L624.80,373.34 L625.30,373.00 L625.80,372.62 L626.30,372.20 L626.80,371.73 L627.30,371.21 L627.80,370.62 L628.30,369.97 L628.80,369.23 L629.30,368.39 L629.80,367.45 L630.30,366.37 L630.80,365.16 L631.30,363.78 L631.80,362.23 L632.30,360.48 L632.80,358.52 L633.30,356.35 L633.80,353.99 L634.30,351.48 L634.80,348.91 L635.30,346.41 L635.80,344.14 L636.30,342.31 L636.80,341.12 L637.30,340.70 L637.80,341.12 L638.30,342.31 L638.80,344.14 L639.30,346.41 L639.80,348.91 L640.30,351.48 L640.80,353.99 L641.30,356.35 L641.80,358.52 L642.30,360.48 L642.80,362.23 L643.30,363.78 L643.80,365.16 L644.30,366.37 L644.80,367.45 L645.30,368.39 L645.80,369.23 L646.30,369.97 L646.80,370.62 L647.30,371.21 L647.80,371.73 L648.30,372.20 L648.80,372.62 L649.30,373.00 L649.80,373.34 L650.30,373.64 L650.80,373.92 L651.30,374.18 L651.80,374.41 L652.30,374.62 L652.80,374.81 L653.30,374.99 L653.80,375.15 L654.30,375.30 L654.80,375.44 L655.30,375.57 L655.80,375.69 L656.30,375.80 L656.80,375.90 L657.30,376.00" fill="url(#gq3)" stroke="#3a3aff" stroke-width="2.4" stroke-linejoin="round"/><path d="M606.10,376.00 L606.60,375.90 L607.10,375.80 L607.60,375.69 L608.10,375.57 L608.60,375.44 L609.10,375.30 L609.60,375.15 L610.10,374.99 L610.60,374.81 L611.10,374.62 L611.60,374.41 L612.10,374.18 L612.60,373.92 L613.10,373.64 L613.60,373.34 L614.10,373.00 L614.60,372.62 L615.10,372.20 L615.60,371.73 L616.10,371.21 L616.60,370.62 L617.10,369.97 L617.60,369.23 L618.10,368.39 L618.60,367.45 L619.10,366.37 L619.60,365.16 L620.10,363.78 L620.60,362.23 L621.10,360.48 L621.60,358.52 L622.10,356.35 L622.60,353.99 L623.10,351.48 L623.60,348.91 L624.10,346.41 L624.60,344.14 L625.10,342.31 L625.60,341.12 L626.10,340.70 L626.60,341.12 L627.10,342.31 L627.60,344.14 L628.10,346.41 L628.60,348.91 L629.10,351.48 L629.60,353.99 L630.10,356.35 L630.60,358.52 L631.10,360.48 L631.60,362.23 L632.10,363.78 L632.60,365.16 L633.10,366.37 L633.60,367.45 L634.10,368.39 L634.60,369.23 L635.10,369.97 L635.60,370.62 L636.10,371.21 L636.60,371.73 L637.10,372.20 L637.60,372.62 L638.10,373.00 L638.60,373.34 L639.10,373.64 L639.60,373.92 L640.10,374.18 L640.60,374.41 L641.10,374.62 L641.60,374.81 L642.10,374.99 L642.60,375.15 L643.10,375.30 L643.60,375.44 L644.10,375.57 L644.60,375.69 L645.10,375.80 L645.60,375.90 L646.10,376.00" fill="url(#gq2)" stroke="#3a3aff" stroke-width="2.4" stroke-linejoin="round"/><path d="M594.40,376.00 L594.90,375.90 L595.40,375.80 L595.90,375.69 L596.40,375.57 L596.90,375.44 L597.40,375.30 L597.90,375.15 L598.40,374.99 L598.90,374.81 L599.40,374.62 L599.90,374.41 L600.40,374.18 L600.90,373.92 L601.40,373.64 L601.90,373.34 L602.40,373.00 L602.90,372.62 L603.40,372.20 L603.90,371.73 L604.40,371.21 L604.90,370.62 L605.40,369.97 L605.90,369.23 L606.40,368.39 L606.90,367.45 L607.40,366.37 L607.90,365.16 L608.40,363.78 L608.90,362.23 L609.40,360.48 L609.90,358.52 L610.40,356.35 L610.90,353.99 L611.40,351.48 L611.90,348.91 L612.40,346.41 L612.90,344.14 L613.40,342.31 L613.90,341.12 L614.40,340.70 L614.90,341.12 L615.40,342.31 L615.90,344.14 L616.40,346.41 L616.90,348.91 L617.40,351.48 L617.90,353.99 L618.40,356.35 L618.90,358.52 L619.40,360.48 L619.90,362.23 L620.40,363.78 L620.90,365.16 L621.40,366.37 L621.90,367.45 L622.40,368.39 L622.90,369.23 L623.40,369.97 L623.90,370.62 L624.40,371.21 L624.90,371.73 L625.40,372.20 L625.90,372.62 L626.40,373.00 L626.90,373.34 L627.40,373.64 L627.90,373.92 L628.40,374.18 L628.90,374.41 L629.40,374.62 L629.90,374.81 L630.40,374.99 L630.90,375.15 L631.40,375.30 L631.90,375.44 L632.40,375.57 L632.90,375.69 L633.40,375.80 L633.90,375.90 L634.40,376.00" fill="url(#gq1)" stroke="#3a3aff" stroke-width="2.4" stroke-linejoin="round"/><path d="M347.80,376.00 L348.35,375.77 L348.90,375.53 L349.45,375.26 L350.00,374.97 L350.55,374.67 L351.10,374.33 L351.65,373.97 L352.20,373.57 L352.75,373.15 L353.30,372.68 L353.85,372.16 L354.40,371.60 L354.95,370.98 L355.50,370.30 L356.05,369.55 L356.60,368.71 L357.15,367.78 L357.70,366.75 L358.25,365.59 L358.80,364.28 L359.35,362.81 L359.90,361.16 L360.45,359.27 L361.00,357.13 L361.55,354.69 L362.10,351.90 L362.65,348.69 L363.20,345.01 L363.75,340.79 L364.30,335.96 L364.85,330.45 L365.40,324.22 L365.95,317.29 L366.50,309.74 L367.05,301.79 L367.60,293.82 L368.15,286.41 L368.70,280.30 L369.25,276.23 L369.80,274.80 L370.35,276.23 L370.90,280.30 L371.45,286.41 L372.00,293.82 L372.55,301.79 L373.10,309.74 L373.65,317.29 L374.20,324.22 L374.75,330.45 L375.30,335.96 L375.85,340.79 L376.40,345.01 L376.95,348.69 L377.50,351.90 L378.05,354.69 L378.60,357.13 L379.15,359.27 L379.70,361.16 L380.25,362.81 L380.80,364.28 L381.35,365.59 L381.90,366.75 L382.45,367.78 L383.00,368.71 L383.55,369.55 L384.10,370.30 L384.65,370.98 L385.20,371.60 L385.75,372.16 L386.30,372.68 L386.85,373.15 L387.40,373.57 L387.95,373.97 L388.50,374.33 L389.05,374.67 L389.60,374.97 L390.15,375.26 L390.70,375.53 L391.25,375.77 L391.80,376.00" fill="none" stroke="#e01010" stroke-width="2.2"/><line x1="46.5" y1="376.9" x2="667" y2="376.9" stroke="#000" stroke-width="2.4"/><polygon points="674.3,376.9 665,372.6 665,381.2" fill="#000"/><path d="M687.77,368.27 C685.56,370.06 683.78,373.21 683.88,375.83 C683.99,378.46 685.56,379.19 687.13,379.09 C689.24,378.99 690.81,375.83 691.86,371.63 C692.38,375.83 693.44,379.19 695.54,379.09 C698.16,378.77 699.74,374.78 699.53,371.11 C699.42,369.53 699.11,368.49 698.90,368.06" fill="none" stroke="#000" stroke-width="2.2" stroke-linecap="round" stroke-linejoin="round"/><line x1="88.9" y1="306" x2="102" y2="306" stroke="#4040ff" stroke-width="2"/><polygon points="109.8,306 101.3,301.6 101.3,310.4" fill="#4f4fff"/><line x1="622.5" y1="306" x2="636.3" y2="306" stroke="#4040ff" stroke-width="2"/><polygon points="615,306 623.5,301.6 623.5,310.4" fill="#4f4fff"/><line x1="369.7" y1="385" x2="369.7" y2="411.5" stroke="#1b7a55" stroke-width="1.9"/><polygon points="369.7,377.9 365.2,386 374.2,386" fill="#1b7a55"/><text x="385.5" y="414.5" font-family="Liberation Sans, sans-serif" font-size="24.5" fill="#1b7a55">pump</text><path d="M369.2,270 L369.2,258.8 L440,258.8" fill="none" stroke="#f08018" stroke-width="2"/><line x1="439.7" y1="258.8" x2="439.7" y2="270" stroke="#f08018" stroke-width="2"/><line x1="440" y1="258.8" x2="466.8" y2="258.8" stroke="#f08018" stroke-width="2" opacity="0.45"/><line x1="452.7" y1="260" x2="452.7" y2="271.2" stroke="#f08018" stroke-width="1.6" opacity="0.5"/><line x1="464.8" y1="260" x2="464.8" y2="271.2" stroke="#f08018" stroke-width="1.6" opacity="0.35"/><g opacity="0.45"><g filter="url(#blur1)"><path d="M452.4,235 L452.59999999999997,231 C452.9,226.5 455.0,223.7 457.2,223.7 C459.4,223.7 461.5,226.5 461.8,231 L462.0,235" fill="none" stroke="#ee7d31" stroke-width="2.8"/><rect x="447.2" y="234.3" width="20" height="20.3" fill="#ee7d31"/></g><circle cx="457.2" cy="242.4" r="2.2" fill="#3a3a3a"/><polygon points="456.09999999999997,243 458.3,243 459.8,248.8 454.59999999999997,248.8" fill="#3a3a3a"/></g><g opacity="0.7"><g filter="url(#blur1)"><path d="M439.59999999999997,235 L439.79999999999995,231 C440.09999999999997,226.5 442.2,223.7 444.4,223.7 C446.59999999999997,223.7 448.7,226.5 449.0,231 L449.2,235" fill="none" stroke="#ee7d31" stroke-width="2.8"/><rect x="434.4" y="234.3" width="20" height="20.3" fill="#ee7d31"/></g><circle cx="444.4" cy="242.4" r="2.2" fill="#3a3a3a"/><polygon points="443.29999999999995,243 445.5,243 447.0,248.8 441.79999999999995,248.8" fill="#3a3a3a"/></g><g opacity="1"><g filter="url(#blur1)"><path d="M426.8,235 L427.0,231 C427.3,226.5 429.40000000000003,223.7 431.6,223.7 C433.8,223.7 435.90000000000003,226.5 436.20000000000005,231 L436.40000000000003,235" fill="none" stroke="#ee7d31" stroke-width="2.8"/><rect x="421.6" y="234.3" width="20" height="20.3" fill="#ee7d31"/></g><circle cx="431.6" cy="242.4" r="2.2" fill="#3a3a3a"/><polygon points="430.5,243 432.70000000000005,243 434.20000000000005,248.8 429.0,248.8" fill="#3a3a3a"/></g><g opacity="1"><g filter="url(#blur1)"><path d="M366.0,235 L366.2,231 C366.5,226.5 368.6,223.7 370.8,223.7 C373.0,223.7 375.1,226.5 375.40000000000003,231 L375.6,235" fill="none" stroke="#ec4f45" stroke-width="2.8"/><rect x="360.8" y="234.3" width="20" height="20.3" fill="#ec4f45"/></g><circle cx="370.8" cy="242.4" r="2.2" fill="#3a3a3a"/><polygon points="369.7,243 371.90000000000003,243 373.40000000000003,248.8 368.2,248.8" fill="#3a3a3a"/></g><text x="339" y="39.8" font-family="Liberation Sans, sans-serif" font-weight="bold" font-size="24" fill="#000">c</text><g clip-path="url(#ce1)"><rect x="360" y="15" width="50" height="160" fill="#0000ff"/><ellipse cx="404.8" cy="95.3" rx="5.4" ry="20" fill="url(#jg1)"/></g><g clip-path="url(#ce2)"><rect x="490" y="15" width="50" height="160" fill="#0000ff"/><ellipse cx="531" cy="73.5" rx="7.5" ry="16.32" fill="url(#jg5)"/><ellipse cx="533.3" cy="73.5" rx="2.8" ry="14.4" fill="url(#jg4)"/><ellipse cx="529.7" cy="73.5" rx="2.8" ry="15.2" fill="url(#jg3)"/><ellipse cx="525" cy="73.5" rx="4.6" ry="16" fill="url(#jg1b)"/><ellipse cx="531" cy="95.5" rx="7.5" ry="10.71" fill="url(#jg5)"/><ellipse cx="533.3" cy="95.5" rx="2.8" ry="9.450000000000001" fill="url(#jg4)"/><ellipse cx="529.7" cy="95.5" rx="2.8" ry="9.975" fill="url(#jg3)"/><ellipse cx="525" cy="95.5" rx="4.6" ry="10.5" fill="url(#jg2)"/><ellipse cx="531" cy="118" rx="7.5" ry="18.36" fill="url(#jg5)"/><ellipse cx="533.3" cy="118" rx="2.8" ry="16.2" fill="url(#jg4)"/><ellipse cx="529.7" cy="118" rx="2.8" ry="17.099999999999998" fill="url(#jg3)"/><ellipse cx="525" cy="118" rx="4.6" ry="18" fill="url(#jg1b)"/><rect x="518" y="85" width="20" height="1.3" fill="#0000ff" opacity="0.85"/><rect x="518" y="103.9" width="20" height="1.3" fill="#0000ff" opacity="0.85"/></g><g clip-path="url(#ct1)" style="isolation:isolate"><rect x="410" y="15" width="60" height="160" fill="url(#ht1)"/><rect x="410" y="15" width="60" height="160" fill="url(#fl1)" style="mix-blend-mode:lighten"/></g><g clip-path="url(#ct2)" style="isolation:isolate"><rect x="540" y="15" width="62" height="160" fill="url(#ht2)"/><rect x="540" y="15" width="62" height="160" fill="url(#fl2)" style="mix-blend-mode:lighten"/></g><text x="366" y="164.6" font-family="Liberation Sans, sans-serif" font-size="21" fill="#f2e600">E</text><text x="417.5" y="164.6" font-family="Liberation Sans, sans-serif" font-size="21" fill="#f2e600">T</text><text x="499" y="164.6" font-family="Liberation Sans, sans-serif" font-size="21" fill="#f2e600">E</text><text x="550.5" y="164.6" font-family="Liberation Sans, sans-serif" font-size="21" fill="#f2e600">T</text><rect x="632.5" y="22.3" width="18.4" height="148.3" fill="url(#cbar)"/><line x1="632.5" y1="22.3" x2="635.5" y2="22.3" stroke="#888" stroke-width="0.8"/><line x1="648" y1="22.3" x2="651" y2="22.3" stroke="#888" stroke-width="0.8"/><line x1="632.5" y1="40.8" x2="635.5" y2="40.8" stroke="#888" stroke-width="0.8"/><line x1="648" y1="40.8" x2="651" y2="40.8" stroke="#888" stroke-width="0.8"/><line x1="632.5" y1="59.4" x2="635.5" y2="59.4" stroke="#888" stroke-width="0.8"/><line x1="648" y1="59.4" x2="651" y2="59.4" stroke="#888" stroke-width="0.8"/><line x1="632.5" y1="77.9" x2="635.5" y2="77.9" stroke="#888" stroke-width="0.8"/><line x1="648" y1="77.9" x2="651" y2="77.9" stroke="#888" stroke-width="0.8"/><line x1="632.5" y1="96.5" x2="635.5" y2="96.5" stroke="#888" stroke-width="0.8"/><line x1="648" y1="96.5" x2="651" y2="96.5" stroke="#888" stroke-width="0.8"/><line x1="632.5" y1="115.0" x2="635.5" y2="115.0" stroke="#888" stroke-width="0.8"/><line x1="648" y1="115.0" x2="651" y2="115.0" stroke="#888" stroke-width="0.8"/><line x1="632.5" y1="133.5" x2="635.5" y2="133.5" stroke="#888" stroke-width="0.8"/><line x1="648" y1="133.5" x2="651" y2="133.5" stroke="#888" stroke-width="0.8"/><line x1="632.5" y1="152.1" x2="635.5" y2="152.1" stroke="#888" stroke-width="0.8"/><line x1="648" y1="152.1" x2="651" y2="152.1" stroke="#888" stroke-width="0.8"/><line x1="632.5" y1="170.6" x2="635.5" y2="170.6" stroke="#888" stroke-width="0.8"/><line x1="648" y1="170.6" x2="651" y2="170.6" stroke="#888" stroke-width="0.8"/><text x="655.5" y="28" font-family="Liberation Sans, sans-serif" font-size="15" fill="#262626">0.0</text><text x="655.5" y="100.3" font-family="Liberation Sans, sans-serif" font-size="15" fill="#262626">0.8</text><text x="655.5" y="175" font-family="Liberation Sans, sans-serif" font-size="15" fill="#262626">1.6</text><text x="652.3" y="16.3" font-family="Liberation Sans, sans-serif" font-size="14.8" fill="#262626">×10<tspan font-size="11" dy="-4.6">4</tspan></text><text transform="translate(625.2 160.3) rotate(-90)" font-family="Liberation Sans, sans-serif" font-size="18" fill="#262626">Temperature (K)</text><text x="771" y="39.5" font-family="Liberation Sans, sans-serif" font-weight="bold" font-size="25" fill="#000">d</text><g filter="url(#hotmap)"><rect x="826.5" y="29.5" width="422.29999999999995" height="332.0" fill="#000"/><ellipse cx="841.2" cy="105.8" rx="4.8" ry="7.8" fill="#2b2b2b"/><ellipse cx="840.2" cy="101.5" rx="2.4" ry="2.8" fill="#ffffff"/><ellipse cx="840.2" cy="105.5" rx="2.4" ry="2.8" fill="#ffffff"/><ellipse cx="840.2" cy="110.0" rx="2.4" ry="2.8" fill="#ffffff"/><ellipse cx="840.8" cy="117.5" rx="4.8" ry="3.5" fill="#2b2b2b"/><ellipse cx="839.8" cy="117.5" rx="2.4" ry="2.8" fill="#636363"/><ellipse cx="943.0" cy="105.3" rx="4.8" ry="12.2" fill="#2b2b2b"/><ellipse cx="942.0" cy="96.6" rx="2.4" ry="2.8" fill="#b6b6b6"/><ellipse cx="942.0" cy="101.8" rx="2.4" ry="2.8" fill="#ffffff"/><ellipse cx="942.0" cy="107.0" rx="2.4" ry="2.8" fill="#ffffff"/><ellipse cx="942.0" cy="114.0" rx="2.4" ry="2.8" fill="#ffffff"/><ellipse cx="940.0" cy="121.0" rx="4.8" ry="3.5" fill="#2b2b2b"/><ellipse cx="939.0" cy="121.0" rx="2.4" ry="2.8" fill="#c7c7c7"/><ellipse cx="962.3" cy="103.4" rx="4.8" ry="10.4" fill="#2b2b2b"/><ellipse cx="961.3" cy="96.6" rx="2.4" ry="2.8" fill="#959595"/><ellipse cx="961.3" cy="102.2" rx="2.4" ry="2.8" fill="#d7d7d7"/><ellipse cx="961.3" cy="106.5" rx="2.4" ry="2.8" fill="#ffffff"/><ellipse cx="961.3" cy="110.3" rx="2.4" ry="2.8" fill="#ffffff"/><ellipse cx="961.8" cy="120.0" rx="4.8" ry="3.5" fill="#2b2b2b"/><ellipse cx="960.8" cy="120.0" rx="2.4" ry="2.8" fill="#b6b6b6"/><ellipse cx="980.6" cy="105.8" rx="4.8" ry="14.5" fill="#2b2b2b"/><ellipse cx="979.6" cy="94.7" rx="2.4" ry="2.8" fill="#636363"/><ellipse cx="979.6" cy="100.8" rx="2.4" ry="2.8" fill="#ffffff"/><ellipse cx="979.6" cy="105.5" rx="2.4" ry="2.8" fill="#ffffff"/><ellipse cx="979.6" cy="110.5" rx="2.4" ry="2.8" fill="#ffffff"/><ellipse cx="979.6" cy="116.8" rx="2.4" ry="2.8" fill="#c7c7c7"/><ellipse cx="999.9" cy="108.2" rx="4.8" ry="17.9" fill="#2b2b2b"/><ellipse cx="998.9" cy="93.8" rx="2.4" ry="2.8" fill="#535353"/><ellipse cx="998.9" cy="102.7" rx="2.4" ry="2.8" fill="#ffffff"/><ellipse cx="998.9" cy="108.4" rx="2.4" ry="2.8" fill="#ffffff"/><ellipse cx="998.9" cy="115.0" rx="2.4" ry="2.8" fill="#c7c7c7"/><ellipse cx="998.9" cy="122.5" rx="2.4" ry="2.8" fill="#535353"/><ellipse cx="1018.8" cy="106.0" rx="4.8" ry="12.0" fill="#2b2b2b"/><ellipse cx="1017.8" cy="97.5" rx="2.4" ry="2.8" fill="#b6b6b6"/><ellipse cx="1017.8" cy="101.0" rx="2.4" ry="2.8" fill="#a6a6a6"/><ellipse cx="1017.8" cy="107.0" rx="2.4" ry="2.8" fill="#ffffff"/><ellipse cx="1017.8" cy="111.2" rx="2.4" ry="2.8" fill="#f9f9f9"/><ellipse cx="1017.8" cy="114.5" rx="2.4" ry="2.8" fill="#959595"/><ellipse cx="1059.2" cy="108.7" rx="4.8" ry="12.8" fill="#2b2b2b"/><ellipse cx="1058.2" cy="99.4" rx="2.4" ry="2.8" fill="#959595"/><ellipse cx="1058.2" cy="103.0" rx="2.4" ry="2.8" fill="#ffffff"/><ellipse cx="1058.2" cy="107.0" rx="2.4" ry="2.8" fill="#ffffff"/><ellipse cx="1058.2" cy="111.0" rx="2.4" ry="2.8" fill="#ffffff"/><ellipse cx="1058.2" cy="114.0" rx="2.4" ry="2.8" fill="#c7c7c7"/><ellipse cx="1058.2" cy="118.0" rx="2.4" ry="2.8" fill="#747474"/><ellipse cx="1078.0" cy="106.4" rx="4.8" ry="14.4" fill="#2b2b2b"/><ellipse cx="1077.0" cy="95.6" rx="2.4" ry="2.8" fill="#a6a6a6"/><ellipse cx="1077.0" cy="101.3" rx="2.4" ry="2.8" fill="#ffffff"/><ellipse cx="1077.0" cy="108.4" rx="2.4" ry="2.8" fill="#ffffff"/><ellipse cx="1077.0" cy="114.5" rx="2.4" ry="2.8" fill="#c7c7c7"/><ellipse cx="1077.0" cy="117.3" rx="2.4" ry="2.8" fill="#b6b6b6"/><ellipse cx="1093.6" cy="102.9" rx="4.8" ry="12.6" fill="#2b2b2b"/><ellipse cx="1092.6" cy="93.8" rx="2.4" ry="2.8" fill="#636363"/><ellipse cx="1092.6" cy="102.2" rx="2.4" ry="2.8" fill="#ffffff"/><ellipse cx="1092.6" cy="107.4" rx="2.4" ry="2.8" fill="#ffffff"/><ellipse cx="1092.6" cy="112.1" rx="2.4" ry="2.8" fill="#ffffff"/><ellipse cx="1112.9" cy="103.7" rx="4.8" ry="11.6" fill="#2b2b2b"/><ellipse cx="1111.9" cy="95.6" rx="2.4" ry="2.8" fill="#858585"/><ellipse cx="1111.9" cy="101.8" rx="2.4" ry="2.8" fill="#ffffff"/><ellipse cx="1111.9" cy="107.0" rx="2.4" ry="2.8" fill="#ffffff"/><ellipse cx="1111.9" cy="111.7" rx="2.4" ry="2.8" fill="#c7c7c7"/><ellipse cx="1131.2" cy="107.2" rx="4.8" ry="13.1" fill="#2b2b2b"/><ellipse cx="1130.2" cy="97.5" rx="2.4" ry="2.8" fill="#959595"/><ellipse cx="1130.2" cy="103.2" rx="2.4" ry="2.8" fill="#ffffff"/><ellipse cx="1130.2" cy="108.8" rx="2.4" ry="2.8" fill="#ffffff"/><ellipse cx="1130.2" cy="116.8" rx="2.4" ry="2.8" fill="#858585"/><ellipse cx="1150.1" cy="103.1" rx="4.8" ry="14.6" fill="#2b2b2b"/><ellipse cx="1149.1" cy="91.9" rx="2.4" ry="2.8" fill="#636363"/><ellipse cx="1149.1" cy="100.4" rx="2.4" ry="2.8" fill="#e8e8e8"/><ellipse cx="1149.1" cy="105.1" rx="2.4" ry="2.8" fill="#ffffff"/><ellipse cx="1149.1" cy="109.9" rx="2.4" ry="2.8" fill="#ffffff"/><ellipse cx="1149.1" cy="114.2" rx="2.4" ry="2.8" fill="#b6b6b6"/><ellipse cx="1169.1" cy="106.0" rx="4.8" ry="11.7" fill="#2b2b2b"/><ellipse cx="1168.1" cy="97.8" rx="2.4" ry="2.8" fill="#b6b6b6"/><ellipse cx="1168.1" cy="100.4" rx="2.4" ry="2.8" fill="#f9f9f9"/><ellipse cx="1168.1" cy="106.0" rx="2.4" ry="2.8" fill="#ffffff"/><ellipse cx="1168.1" cy="110.7" rx="2.4" ry="2.8" fill="#ffffff"/><ellipse cx="1168.1" cy="114.2" rx="2.4" ry="2.8" fill="#c7c7c7"/><ellipse cx="1187.6" cy="107.7" rx="4.8" ry="16.0" fill="#2b2b2b"/><ellipse cx="1186.6" cy="95.2" rx="2.4" ry="2.8" fill="#858585"/><ellipse cx="1186.6" cy="99.9" rx="2.4" ry="2.8" fill="#ffffff"/><ellipse cx="1186.6" cy="106.4" rx="2.4" ry="2.8" fill="#ffffff"/><ellipse cx="1186.6" cy="112.5" rx="2.4" ry="2.8" fill="#ffffff"/><ellipse cx="1186.6" cy="120.2" rx="2.4" ry="2.8" fill="#747474"/><ellipse cx="1207.0" cy="106.2" rx="4.8" ry="15.8" fill="#2b2b2b"/><ellipse cx="1206.0" cy="93.9" rx="2.4" ry="2.8" fill="#747474"/><ellipse cx="1206.0" cy="99.9" rx="2.4" ry="2.8" fill="#e8e8e8"/><ellipse cx="1206.0" cy="107.3" rx="2.4" ry="2.8" fill="#ffffff"/><ellipse cx="1206.0" cy="112.5" rx="2.4" ry="2.8" fill="#ffffff"/><ellipse cx="1206.0" cy="118.5" rx="2.4" ry="2.8" fill="#636363"/><ellipse cx="1226.0" cy="105.8" rx="4.8" ry="13.7" fill="#2b2b2b"/><ellipse cx="1225.0" cy="95.6" rx="2.4" ry="2.8" fill="#b6b6b6"/><ellipse cx="1225.0" cy="102.5" rx="2.4" ry="2.8" fill="#ffffff"/><ellipse cx="1225.0" cy="107.3" rx="2.4" ry="2.8" fill="#ffffff"/><ellipse cx="1225.0" cy="115.9" rx="2.4" ry="2.8" fill="#ffffff"/><ellipse cx="1244.6" cy="105.8" rx="4.8" ry="12.8" fill="#2b2b2b"/><ellipse cx="1243.6" cy="96.5" rx="2.4" ry="2.8" fill="#b6b6b6"/><ellipse cx="1243.6" cy="104.7" rx="2.4" ry="2.8" fill="#ffffff"/><ellipse cx="1243.6" cy="109.4" rx="2.4" ry="2.8" fill="#ffffff"/><ellipse cx="1243.6" cy="115.0" rx="2.4" ry="2.8" fill="#b6b6b6"/><ellipse cx="940.3" cy="133.6" rx="4.8" ry="9.3" fill="#2b2b2b"/><ellipse cx="939.3" cy="127.8" rx="2.4" ry="2.8" fill="#ffffff"/><ellipse cx="939.3" cy="134.0" rx="2.4" ry="2.8" fill="#ffffff"/><ellipse cx="939.3" cy="139.4" rx="2.4" ry="2.8" fill="#e8e8e8"/><ellipse cx="959.0" cy="134.1" rx="4.8" ry="10.6" fill="#2b2b2b"/><ellipse cx="958.0" cy="126.9" rx="2.4" ry="2.8" fill="#ffffff"/><ellipse cx="958.0" cy="133.2" rx="2.4" ry="2.8" fill="#ffffff"/><ellipse cx="958.0" cy="141.2" rx="2.4" ry="2.8" fill="#858585"/><ellipse cx="1090.7" cy="131.0" rx="4.8" ry="12.8" fill="#2b2b2b"/><ellipse cx="1089.7" cy="121.7" rx="2.4" ry="2.8" fill="#b6b6b6"/><ellipse cx="1089.7" cy="127.0" rx="2.4" ry="2.8" fill="#ffffff"/><ellipse cx="1089.7" cy="131.6" rx="2.4" ry="2.8" fill="#ffffff"/><ellipse cx="1089.7" cy="140.3" rx="2.4" ry="2.8" fill="#a6a6a6"/><ellipse cx="1166.3" cy="129.8" rx="4.8" ry="11.6" fill="#2b2b2b"/><ellipse cx="1165.3" cy="121.7" rx="2.4" ry="2.8" fill="#ffffff"/><ellipse cx="1165.3" cy="126.0" rx="2.4" ry="2.8" fill="#ffffff"/><ellipse cx="1165.3" cy="130.4" rx="2.4" ry="2.8" fill="#ffffff"/><ellipse cx="1165.3" cy="134.0" rx="2.4" ry="2.8" fill="#ffffff"/><ellipse cx="1165.3" cy="137.9" rx="2.4" ry="2.8" fill="#ffffff"/><ellipse cx="837.8" cy="133.0" rx="4.8" ry="10.5" fill="#2b2b2b"/><ellipse cx="836.8" cy="126.0" rx="2.4" ry="2.8" fill="#e8e8e8"/><ellipse cx="836.8" cy="130.0" rx="2.4" ry="2.8" fill="#ffffff"/><ellipse cx="836.8" cy="135.0" rx="2.4" ry="2.8" fill="#ffffff"/><ellipse cx="836.8" cy="140.0" rx="2.4" ry="2.8" fill="#959595"/><ellipse cx="835.6" cy="147.0" rx="4.8" ry="3.5" fill="#2b2b2b"/><ellipse cx="834.6" cy="147.0" rx="2.4" ry="2.8" fill="#535353"/><ellipse cx="834.7" cy="157.0" rx="4.8" ry="7.5" fill="#2b2b2b"/><ellipse cx="833.7" cy="153.0" rx="2.4" ry="2.8" fill="#ffffff"/><ellipse cx="833.7" cy="157.0" rx="2.4" ry="2.8" fill="#ffffff"/><ellipse cx="833.7" cy="161.0" rx="2.4" ry="2.8" fill="#e8e8e8"/><ellipse cx="833.3" cy="166.0" rx="4.8" ry="3.5" fill="#2b2b2b"/><ellipse cx="832.3" cy="166.0" rx="2.4" ry="2.8" fill="#747474"/><ellipse cx="937.1" cy="160.8" rx="4.8" ry="13.3" fill="#2b2b2b"/><ellipse cx="936.1" cy="151.0" rx="2.4" ry="2.8" fill="#c7c7c7"/><ellipse cx="936.1" cy="155.0" rx="2.4" ry="2.8" fill="#e8e8e8"/><ellipse cx="936.1" cy="158.2" rx="2.4" ry="2.8" fill="#ffffff"/><ellipse cx="936.1" cy="163.5" rx="2.4" ry="2.8" fill="#c7c7c7"/><ellipse cx="936.1" cy="170.7" rx="2.4" ry="2.8" fill="#636363"/><ellipse cx="956.4" cy="155.5" rx="4.8" ry="8.9" fill="#2b2b2b"/><ellipse cx="955.4" cy="150.1" rx="2.4" ry="2.8" fill="#c7c7c7"/><ellipse cx="955.4" cy="155.9" rx="2.4" ry="2.8" fill="#ffffff"/><ellipse cx="955.4" cy="160.9" rx="2.4" ry="2.8" fill="#ffffff"/><ellipse cx="974.6" cy="158.2" rx="4.8" ry="15.1" fill="#2b2b2b"/><ellipse cx="973.6" cy="146.6" rx="2.4" ry="2.8" fill="#858585"/><ellipse cx="973.6" cy="153.7" rx="2.4" ry="2.8" fill="#ffffff"/><ellipse cx="973.6" cy="158.0" rx="2.4" ry="2.8" fill="#ffffff"/><ellipse cx="973.6" cy="161.5" rx="2.4" ry="2.8" fill="#ffffff"/><ellipse cx="973.6" cy="166.0" rx="2.4" ry="2.8" fill="#e8e8e8"/><ellipse cx="973.6" cy="169.8" rx="2.4" ry="2.8" fill="#b6b6b6"/><ellipse cx="993.5" cy="157.3" rx="4.8" ry="12.4" fill="#2b2b2b"/><ellipse cx="992.5" cy="148.4" rx="2.4" ry="2.8" fill="#858585"/><ellipse cx="992.5" cy="153.7" rx="2.4" ry="2.8" fill="#e8e8e8"/><ellipse cx="992.5" cy="160.9" rx="2.4" ry="2.8" fill="#f9f9f9"/><ellipse cx="992.5" cy="166.2" rx="2.4" ry="2.8" fill="#ffffff"/><ellipse cx="1012.6" cy="158.6" rx="4.8" ry="9.3" fill="#2b2b2b"/><ellipse cx="1011.6" cy="152.8" rx="2.4" ry="2.8" fill="#e8e8e8"/><ellipse cx="1011.6" cy="158.2" rx="2.4" ry="2.8" fill="#ffffff"/><ellipse cx="1011.6" cy="164.4" rx="2.4" ry="2.8" fill="#e8e8e8"/><ellipse cx="1031.4" cy="158.1" rx="4.8" ry="11.5" fill="#2b2b2b"/><ellipse cx="1030.4" cy="150.1" rx="2.4" ry="2.8" fill="#c7c7c7"/><ellipse cx="1030.4" cy="156.4" rx="2.4" ry="2.8" fill="#ffffff"/><ellipse cx="1030.4" cy="160.9" rx="2.4" ry="2.8" fill="#ffffff"/><ellipse cx="1030.4" cy="166.2" rx="2.4" ry="2.8" fill="#c7c7c7"/><ellipse cx="1088.2" cy="160.8" rx="4.8" ry="12.8" fill="#2b2b2b"/><ellipse cx="1087.2" cy="151.5" rx="2.4" ry="2.8" fill="#ffffff"/><ellipse cx="1087.2" cy="156.5" rx="2.4" ry="2.8" fill="#ffffff"/><ellipse cx="1087.2" cy="160.0" rx="2.4" ry="2.8" fill="#ffffff"/><ellipse cx="1087.2" cy="163.9" rx="2.4" ry="2.8" fill="#ffffff"/><ellipse cx="1087.2" cy="170.0" rx="2.4" ry="2.8" fill="#858585"/><ellipse cx="1162.6" cy="158.4" rx="4.8" ry="11.5" fill="#2b2b2b"/><ellipse cx="1161.6" cy="150.3" rx="2.4" ry="2.8" fill="#ffffff"/><ellipse cx="1161.6" cy="154.5" rx="2.4" ry="2.8" fill="#ffffff"/><ellipse cx="1161.6" cy="159.0" rx="2.4" ry="2.8" fill="#ffffff"/><ellipse cx="1161.6" cy="166.4" rx="2.4" ry="2.8" fill="#959595"/><ellipse cx="832.0" cy="183.0" rx="4.8" ry="10.5" fill="#2b2b2b"/><ellipse cx="831.0" cy="176.0" rx="2.4" ry="2.8" fill="#e8e8e8"/><ellipse cx="831.0" cy="181.0" rx="2.4" ry="2.8" fill="#ffffff"/><ellipse cx="831.0" cy="186.0" rx="2.4" ry="2.8" fill="#e8e8e8"/><ellipse cx="831.0" cy="190.0" rx="2.4" ry="2.8" fill="#858585"/><ellipse cx="934.0" cy="186.2" rx="4.8" ry="11.1" fill="#2b2b2b"/><ellipse cx="933.0" cy="178.7" rx="2.4" ry="2.8" fill="#f9f9f9"/><ellipse cx="933.0" cy="184.0" rx="2.4" ry="2.8" fill="#ffffff"/><ellipse cx="933.0" cy="188.5" rx="2.4" ry="2.8" fill="#c7c7c7"/><ellipse cx="933.0" cy="193.8" rx="2.4" ry="2.8" fill="#a6a6a6"/><ellipse cx="1028.7" cy="184.8" rx="4.8" ry="9.7" fill="#2b2b2b"/><ellipse cx="1027.7" cy="178.7" rx="2.4" ry="2.8" fill="#ffffff"/><ellipse cx="1027.7" cy="184.0" rx="2.4" ry="2.8" fill="#ffffff"/><ellipse cx="1027.7" cy="188.5" rx="2.4" ry="2.8" fill="#c7c7c7"/><ellipse cx="1027.7" cy="191.0" rx="2.4" ry="2.8" fill="#959595"/><ellipse cx="1084.5" cy="186.2" rx="4.8" ry="10.9" fill="#2b2b2b"/><ellipse cx="1083.5" cy="178.8" rx="2.4" ry="2.8" fill="#ffffff"/><ellipse cx="1083.5" cy="185.0" rx="2.4" ry="2.8" fill="#ffffff"/><ellipse cx="1083.5" cy="193.7" rx="2.4" ry="2.8" fill="#858585"/><ellipse cx="1157.7" cy="185.0" rx="4.8" ry="10.9" fill="#2b2b2b"/><ellipse cx="1156.7" cy="177.6" rx="2.4" ry="2.8" fill="#ffffff"/><ellipse cx="1156.7" cy="181.0" rx="2.4" ry="2.8" fill="#ffffff"/><ellipse cx="1156.7" cy="185.0" rx="2.4" ry="2.8" fill="#ffffff"/><ellipse cx="1156.7" cy="192.4" rx="2.4" ry="2.8" fill="#959595"/><ellipse cx="946.3" cy="209.6" rx="4.8" ry="9.4" fill="#2b2b2b"/><ellipse cx="945.3" cy="203.7" rx="2.4" ry="2.8" fill="#a6a6a6"/><ellipse cx="945.3" cy="208.8" rx="2.4" ry="2.8" fill="#e8e8e8"/><ellipse cx="945.3" cy="212.6" rx="2.4" ry="2.8" fill="#ffffff"/><ellipse cx="945.3" cy="215.4" rx="2.4" ry="2.8" fill="#c7c7c7"/><ellipse cx="965.6" cy="208.3" rx="4.8" ry="14.3" fill="#2b2b2b"/><ellipse cx="964.6" cy="197.5" rx="2.4" ry="2.8" fill="#636363"/><ellipse cx="964.6" cy="203.2" rx="2.4" ry="2.8" fill="#c7c7c7"/><ellipse cx="964.6" cy="207.0" rx="2.4" ry="2.8" fill="#d7d7d7"/><ellipse cx="964.6" cy="211.7" rx="2.4" ry="2.8" fill="#f9f9f9"/><ellipse cx="964.6" cy="219.2" rx="2.4" ry="2.8" fill="#a6a6a6"/><ellipse cx="983.9" cy="211.4" rx="4.8" ry="9.9" fill="#2b2b2b"/><ellipse cx="982.9" cy="205.0" rx="2.4" ry="2.8" fill="#c7c7c7"/><ellipse cx="982.9" cy="208.4" rx="2.4" ry="2.8" fill="#e8e8e8"/><ellipse cx="982.9" cy="212.1" rx="2.4" ry="2.8" fill="#d7d7d7"/><ellipse cx="982.9" cy="217.8" rx="2.4" ry="2.8" fill="#858585"/><ellipse cx="1002.8" cy="212.6" rx="4.8" ry="12.9" fill="#2b2b2b"/><ellipse cx="1001.8" cy="203.2" rx="2.4" ry="2.8" fill="#c7c7c7"/><ellipse cx="1001.8" cy="208.8" rx="2.4" ry="2.8" fill="#e8e8e8"/><ellipse cx="1001.8" cy="215.0" rx="2.4" ry="2.8" fill="#c7c7c7"/><ellipse cx="1001.8" cy="222.0" rx="2.4" ry="2.8" fill="#535353"/><ellipse cx="1022.1" cy="209.5" rx="4.8" ry="10.8" fill="#2b2b2b"/><ellipse cx="1021.1" cy="202.2" rx="2.4" ry="2.8" fill="#959595"/><ellipse cx="1021.1" cy="206.0" rx="2.4" ry="2.8" fill="#c7c7c7"/><ellipse cx="1021.1" cy="209.8" rx="2.4" ry="2.8" fill="#e8e8e8"/><ellipse cx="1021.1" cy="216.8" rx="2.4" ry="2.8" fill="#959595"/><ellipse cx="1082.0" cy="209.8" rx="4.8" ry="9.7" fill="#2b2b2b"/><ellipse cx="1081.0" cy="203.6" rx="2.4" ry="2.8" fill="#c7c7c7"/><ellipse cx="1081.0" cy="209.8" rx="2.4" ry="2.8" fill="#e8e8e8"/><ellipse cx="1081.0" cy="216.0" rx="2.4" ry="2.8" fill="#959595"/><ellipse cx="1153.1" cy="208.9" rx="4.8" ry="11.0" fill="#2b2b2b"/><ellipse cx="1152.1" cy="201.3" rx="2.4" ry="2.8" fill="#959595"/><ellipse cx="1152.1" cy="205.0" rx="2.4" ry="2.8" fill="#c7c7c7"/><ellipse cx="1152.1" cy="208.8" rx="2.4" ry="2.8" fill="#e8e8e8"/><ellipse cx="1152.1" cy="212.6" rx="2.4" ry="2.8" fill="#c7c7c7"/><ellipse cx="1152.1" cy="216.4" rx="2.4" ry="2.8" fill="#959595"/><ellipse cx="1172.4" cy="210.2" rx="4.8" ry="13.3" fill="#2b2b2b"/><ellipse cx="1171.4" cy="200.4" rx="2.4" ry="2.8" fill="#858585"/><ellipse cx="1171.4" cy="205.0" rx="2.4" ry="2.8" fill="#c7c7c7"/><ellipse cx="1171.4" cy="208.8" rx="2.4" ry="2.8" fill="#c7c7c7"/><ellipse cx="1171.4" cy="213.5" rx="2.4" ry="2.8" fill="#e8e8e8"/><ellipse cx="1171.4" cy="220.1" rx="2.4" ry="2.8" fill="#a6a6a6"/><ellipse cx="1191.3" cy="209.8" rx="4.8" ry="12.9" fill="#2b2b2b"/><ellipse cx="1190.3" cy="200.4" rx="2.4" ry="2.8" fill="#959595"/><ellipse cx="1190.3" cy="204.1" rx="2.4" ry="2.8" fill="#c7c7c7"/><ellipse cx="1190.3" cy="210.7" rx="2.4" ry="2.8" fill="#ffffff"/><ellipse cx="1190.3" cy="212.6" rx="2.4" ry="2.8" fill="#ffffff"/><ellipse cx="1190.3" cy="219.2" rx="2.4" ry="2.8" fill="#b6b6b6"/><ellipse cx="1210.1" cy="212.4" rx="4.8" ry="12.7" fill="#2b2b2b"/><ellipse cx="1209.1" cy="203.2" rx="2.4" ry="2.8" fill="#c7c7c7"/><ellipse cx="1209.1" cy="207.9" rx="2.4" ry="2.8" fill="#c7c7c7"/><ellipse cx="1209.1" cy="211.7" rx="2.4" ry="2.8" fill="#a6a6a6"/><ellipse cx="1209.1" cy="215.4" rx="2.4" ry="2.8" fill="#c7c7c7"/><ellipse cx="1209.1" cy="221.6" rx="2.4" ry="2.8" fill="#636363"/><ellipse cx="1229.0" cy="208.8" rx="4.8" ry="10.1" fill="#2b2b2b"/><ellipse cx="1228.0" cy="202.2" rx="2.4" ry="2.8" fill="#959595"/><ellipse cx="1228.0" cy="206.0" rx="2.4" ry="2.8" fill="#f9f9f9"/><ellipse cx="1228.0" cy="211.2" rx="2.4" ry="2.8" fill="#c7c7c7"/><ellipse cx="1228.0" cy="215.4" rx="2.4" ry="2.8" fill="#ffffff"/><ellipse cx="830.1" cy="108.0" rx="4.8" ry="9.5" fill="#2b2b2b"/><ellipse cx="829.1" cy="102.0" rx="2.4" ry="2.8" fill="#959595"/><ellipse cx="829.1" cy="108.0" rx="2.4" ry="2.8" fill="#a6a6a6"/><ellipse cx="829.1" cy="114.0" rx="2.4" ry="2.8" fill="#858585"/><ellipse cx="1038.5" cy="107.5" rx="6.5" ry="14.0" fill="#4d4d4d"/><ellipse cx="1038.5" cy="96.6" rx="3.0" ry="3.0" fill="#a6a6a6"/><rect x="1034.3" y="99.5" width="8.4" height="17" rx="3" fill="#fff"/><ellipse cx="1038.5" cy="120.5" rx="3.0" ry="2.5" fill="#737373"/><rect x="921.0" y="266.7" width="12.0" height="16.6" rx="3" fill="#4c4c4c"/><ellipse cx="925.5" cy="278.9" rx="1.9" ry="1.6" fill="#656565"/><ellipse cx="923.3" cy="280.4" rx="1.5" ry="1.6" fill="#6f6f6f"/><ellipse cx="923.4" cy="279.1" rx="1.6" ry="1.5" fill="#989898"/><ellipse cx="928.1" cy="277.6" rx="2.0" ry="1.6" fill="#b5b5b5"/><ellipse cx="931.0" cy="283.7" rx="1.6" ry="1.4" fill="#383838"/><ellipse cx="925.4" cy="277.6" rx="1.6" ry="1.7" fill="#aaaaaa"/><ellipse cx="928.2" cy="271.0" rx="1.5" ry="1.4" fill="#636363"/><ellipse cx="928.5" cy="279.2" rx="1.8" ry="1.7" fill="#7b7b7b"/><ellipse cx="926.6" cy="272.5" rx="1.7" ry="1.7" fill="#a2a2a2"/><ellipse cx="927.2" cy="282.8" rx="2.1" ry="1.5" fill="#5b5b5b"/><rect x="946.0" y="266.7" width="9.0" height="16.6" rx="3" fill="#4c4c4c"/><ellipse cx="953.1" cy="278.5" rx="1.6" ry="1.6" fill="#808080"/><ellipse cx="948.0" cy="278.2" rx="2.1" ry="1.7" fill="#7d7d7d"/><ellipse cx="952.5" cy="272.2" rx="2.0" ry="1.6" fill="#7d7d7d"/><ellipse cx="952.3" cy="281.5" rx="1.9" ry="1.8" fill="#616161"/><ellipse cx="948.1" cy="273.0" rx="2.2" ry="1.5" fill="#9e9e9e"/><ellipse cx="949.9" cy="268.7" rx="1.5" ry="1.6" fill="#585858"/><ellipse cx="948.7" cy="276.2" rx="1.6" ry="1.5" fill="#939393"/><ellipse cx="949.9" cy="276.1" rx="1.6" ry="1.6" fill="#9b9b9b"/><ellipse cx="950.8" cy="281.3" rx="1.7" ry="1.6" fill="#606060"/><ellipse cx="949.7" cy="269.3" rx="2.3" ry="1.4" fill="#6b6b6b"/><rect x="965.0" y="266.7" width="7.0" height="16.6" rx="3" fill="#4c4c4c"/><ellipse cx="967.4" cy="275.4" rx="2.0" ry="1.5" fill="#969696"/><ellipse cx="966.8" cy="278.3" rx="1.8" ry="1.7" fill="#7f7f7f"/><ellipse cx="970.0" cy="273.0" rx="2.0" ry="1.3" fill="#999999"/><ellipse cx="969.9" cy="269.8" rx="2.2" ry="1.9" fill="#7f7f7f"/><ellipse cx="968.1" cy="273.3" rx="1.5" ry="1.3" fill="#9d9d9d"/><ellipse cx="967.5" cy="276.3" rx="1.8" ry="1.3" fill="#797979"/><ellipse cx="966.8" cy="276.2" rx="1.5" ry="1.9" fill="#8a8a8a"/><ellipse cx="968.9" cy="276.7" rx="1.7" ry="1.5" fill="#767676"/><ellipse cx="968.0" cy="281.4" rx="1.9" ry="1.6" fill="#757575"/><ellipse cx="967.1" cy="281.2" rx="1.8" ry="1.5" fill="#4a4a4a"/><rect x="973.8" y="266.7" width="6.5" height="16.6" rx="3" fill="#4c4c4c"/><ellipse cx="978.0" cy="275.5" rx="1.9" ry="1.4" fill="#9d9d9d"/><ellipse cx="977.1" cy="275.8" rx="1.9" ry="2.0" fill="#5d5d5d"/><ellipse cx="978.1" cy="273.8" rx="1.6" ry="1.8" fill="#737373"/><ellipse cx="977.1" cy="271.6" rx="1.8" ry="1.5" fill="#7f7f7f"/><ellipse cx="977.9" cy="284.0" rx="2.2" ry="1.8" fill="#383838"/><ellipse cx="976.2" cy="274.1" rx="1.8" ry="1.3" fill="#7e7e7e"/><ellipse cx="975.6" cy="274.3" rx="2.3" ry="1.6" fill="#8b8b8b"/><ellipse cx="978.3" cy="278.5" rx="2.3" ry="1.6" fill="#8a8a8a"/><ellipse cx="976.2" cy="275.4" rx="2.0" ry="1.9" fill="#6a6a6a"/><ellipse cx="978.0" cy="278.0" rx="2.0" ry="1.9" fill="#707070"/><rect x="984.0" y="266.7" width="8.0" height="16.6" rx="3" fill="#4c4c4c"/><ellipse cx="986.2" cy="269.6" rx="2.1" ry="1.6" fill="#868686"/><ellipse cx="986.6" cy="266.5" rx="1.8" ry="1.9" fill="#4f4f4f"/><ellipse cx="990.1" cy="271.3" rx="2.1" ry="1.4" fill="#adadad"/><ellipse cx="986.4" cy="277.8" rx="2.2" ry="1.9" fill="#797979"/><ellipse cx="986.4" cy="281.0" rx="1.8" ry="1.7" fill="#747474"/><ellipse cx="986.4" cy="265.5" rx="2.3" ry="1.8" fill="#282828"/><ellipse cx="988.1" cy="279.5" rx="2.2" ry="1.4" fill="#9b9b9b"/><ellipse cx="986.9" cy="273.0" rx="1.7" ry="1.7" fill="#8b8b8b"/><ellipse cx="986.9" cy="272.9" rx="1.8" ry="1.6" fill="#bebebe"/><ellipse cx="988.4" cy="276.2" rx="1.8" ry="1.9" fill="#c5c5c5"/><rect x="992.8" y="266.7" width="6.0" height="16.6" rx="3" fill="#4c4c4c"/><ellipse cx="995.8" cy="269.5" rx="1.9" ry="1.4" fill="#414141"/><ellipse cx="994.6" cy="273.9" rx="1.6" ry="1.6" fill="#919191"/><ellipse cx="996.3" cy="271.2" rx="1.9" ry="1.8" fill="#6b6b6b"/><ellipse cx="994.9" cy="273.6" rx="1.7" ry="1.5" fill="#7f7f7f"/><ellipse cx="996.5" cy="269.1" rx="2.2" ry="1.6" fill="#5f5f5f"/><ellipse cx="996.1" cy="274.7" rx="1.9" ry="1.8" fill="#7e7e7e"/><ellipse cx="995.7" cy="269.9" rx="2.1" ry="1.9" fill="#727272"/><ellipse cx="996.9" cy="273.9" rx="1.9" ry="2.0" fill="#6c6c6c"/><ellipse cx="996.6" cy="276.5" rx="1.6" ry="1.5" fill="#777777"/><ellipse cx="994.8" cy="276.8" rx="2.1" ry="1.9" fill="#858585"/><rect x="1003.0" y="266.7" width="8.0" height="16.6" rx="3" fill="#4c4c4c"/><ellipse cx="1005.5" cy="273.6" rx="2.2" ry="2.0" fill="#777777"/><ellipse cx="1005.8" cy="268.4" rx="1.8" ry="1.6" fill="#6f6f6f"/><ellipse cx="1009.2" cy="276.4" rx="1.9" ry="1.5" fill="#8f8f8f"/><ellipse cx="1005.7" cy="272.6" rx="2.1" ry="1.3" fill="#7f7f7f"/><ellipse cx="1007.2" cy="274.2" rx="2.0" ry="1.7" fill="#888888"/><ellipse cx="1005.1" cy="275.3" rx="2.1" ry="2.0" fill="#bfbfbf"/><ellipse cx="1005.3" cy="274.9" rx="1.7" ry="1.4" fill="#aeaeae"/><ellipse cx="1006.7" cy="276.3" rx="2.2" ry="1.5" fill="#b6b6b6"/><ellipse cx="1005.5" cy="280.2" rx="1.6" ry="1.3" fill="#797979"/><ellipse cx="1007.8" cy="272.1" rx="1.6" ry="2.0" fill="#838383"/><rect x="1011.8" y="266.7" width="5.5" height="16.6" rx="3" fill="#4c4c4c"/><ellipse cx="1014.8" cy="275.6" rx="1.6" ry="1.9" fill="#969696"/><ellipse cx="1014.4" cy="273.2" rx="1.9" ry="1.9" fill="#6f6f6f"/><ellipse cx="1014.1" cy="278.9" rx="1.6" ry="1.4" fill="#5a5a5a"/><ellipse cx="1013.6" cy="279.1" rx="1.7" ry="1.5" fill="#565656"/><ellipse cx="1015.0" cy="273.7" rx="1.8" ry="1.3" fill="#666666"/><ellipse cx="1014.0" cy="280.2" rx="2.1" ry="1.7" fill="#434343"/><ellipse cx="1013.9" cy="265.5" rx="2.2" ry="1.6" fill="#212121"/><ellipse cx="1014.5" cy="276.7" rx="1.8" ry="1.7" fill="#909090"/><ellipse cx="1014.9" cy="279.2" rx="2.1" ry="1.7" fill="#797979"/><ellipse cx="1014.3" cy="274.5" rx="1.5" ry="1.4" fill="#737373"/><rect x="1021.2" y="266.7" width="5.5" height="16.6" rx="3" fill="#4c4c4c"/><ellipse cx="1023.2" cy="274.8" rx="1.6" ry="1.9" fill="#565656"/><ellipse cx="1024.7" cy="271.5" rx="1.7" ry="1.5" fill="#636363"/><ellipse cx="1023.6" cy="272.4" rx="1.7" ry="2.0" fill="#5e5e5e"/><ellipse cx="1024.9" cy="275.7" rx="1.7" ry="2.0" fill="#6b6b6b"/><ellipse cx="1023.6" cy="274.9" rx="1.9" ry="1.7" fill="#626262"/><ellipse cx="1023.4" cy="275.2" rx="1.5" ry="1.5" fill="#696969"/><ellipse cx="1023.2" cy="273.9" rx="1.7" ry="1.5" fill="#4d4d4d"/><ellipse cx="1024.2" cy="275.8" rx="2.1" ry="1.8" fill="#6a6a6a"/><ellipse cx="1024.4" cy="278.3" rx="2.3" ry="1.4" fill="#535353"/><ellipse cx="1024.4" cy="271.9" rx="1.5" ry="1.9" fill="#656565"/><rect x="1030.5" y="266.7" width="5.0" height="16.6" rx="3" fill="#4c4c4c"/><ellipse cx="1033.5" cy="269.8" rx="1.6" ry="1.7" fill="#595959"/><ellipse cx="1033.0" cy="269.6" rx="2.1" ry="1.9" fill="#585858"/><ellipse cx="1033.1" cy="280.4" rx="1.7" ry="1.3" fill="#515151"/><ellipse cx="1032.5" cy="270.7" rx="1.6" ry="1.9" fill="#4d4d4d"/><ellipse cx="1033.1" cy="270.5" rx="1.9" ry="1.3" fill="#5b5b5b"/><ellipse cx="1033.4" cy="270.4" rx="1.9" ry="1.7" fill="#5c5c5c"/><ellipse cx="1033.2" cy="281.9" rx="1.6" ry="1.5" fill="#333333"/><ellipse cx="1033.3" cy="278.0" rx="2.1" ry="2.0" fill="#4f4f4f"/><ellipse cx="1033.0" cy="271.1" rx="2.1" ry="1.7" fill="#606060"/><ellipse cx="1033.2" cy="278.5" rx="1.6" ry="1.5" fill="#464646"/><rect x="1040.5" y="265.0" width="16.0" height="18.0" rx="3" fill="#626262"/><ellipse cx="1051.5" cy="271.8" rx="1.5" ry="1.5" fill="#878787"/><ellipse cx="1050.6" cy="280.1" rx="2.0" ry="1.5" fill="#929292"/><ellipse cx="1048.7" cy="268.5" rx="2.2" ry="1.4" fill="#717171"/><ellipse cx="1054.4" cy="275.2" rx="1.5" ry="1.6" fill="#ececec"/><ellipse cx="1052.5" cy="279.4" rx="1.7" ry="2.0" fill="#7e7e7e"/><ellipse cx="1044.9" cy="272.9" rx="1.6" ry="1.7" fill="#c8c8c8"/><ellipse cx="1054.1" cy="280.2" rx="2.2" ry="1.8" fill="#838383"/><ellipse cx="1045.2" cy="280.9" rx="1.9" ry="1.3" fill="#929292"/><ellipse cx="1042.3" cy="268.5" rx="1.6" ry="1.5" fill="#7f7f7f"/><ellipse cx="1046.2" cy="274.3" rx="1.5" ry="1.8" fill="#e5e5e5"/><ellipse cx="1052.7" cy="282.3" rx="2.2" ry="1.5" fill="#6a6a6a"/><ellipse cx="1046.9" cy="281.8" rx="2.3" ry="1.7" fill="#616161"/><ellipse cx="1046.8" cy="270.4" rx="1.6" ry="1.9" fill="#808080"/><ellipse cx="1045.8" cy="275.8" rx="1.7" ry="1.5" fill="#e8e8e8"/><ellipse cx="1048.6" cy="275.8" rx="2.2" ry="1.9" fill="#eaeaea"/><ellipse cx="1050.1" cy="278.5" rx="2.3" ry="1.7" fill="#c1c1c1"/><ellipse cx="1051.2" cy="281.7" rx="2.1" ry="1.8" fill="#666666"/><ellipse cx="1045.8" cy="276.5" rx="2.2" ry="1.4" fill="#898989"/><ellipse cx="1048.2" cy="271.7" rx="2.3" ry="1.5" fill="#cfcfcf"/><ellipse cx="1050.4" cy="277.5" rx="1.9" ry="1.6" fill="#989898"/><ellipse cx="1044.4" cy="275.8" rx="1.9" ry="1.5" fill="#e5e5e5"/><ellipse cx="1053.5" cy="276.9" rx="1.9" ry="1.4" fill="#e2e2e2"/><ellipse cx="1044.7" cy="277.9" rx="1.7" ry="1.5" fill="#818181"/><ellipse cx="1049.4" cy="276.5" rx="2.1" ry="1.6" fill="#dcdcdc"/><ellipse cx="1047.4" cy="269.2" rx="1.5" ry="1.5" fill="#8b8b8b"/><ellipse cx="1054.3" cy="273.3" rx="1.9" ry="1.7" fill="#999999"/><rect x="1059.7" y="265.0" width="16.5" height="18.0" rx="3" fill="#626262"/><ellipse cx="1072.6" cy="274.8" rx="1.8" ry="1.6" fill="#b1b1b1"/><ellipse cx="1073.8" cy="277.9" rx="2.2" ry="1.3" fill="#d2d2d2"/><ellipse cx="1061.9" cy="271.3" rx="2.0" ry="1.3" fill="#bdbdbd"/><ellipse cx="1066.5" cy="263.7" rx="2.2" ry="1.9" fill="#565656"/><ellipse cx="1074.0" cy="274.0" rx="1.9" ry="1.8" fill="#a7a7a7"/><ellipse cx="1073.6" cy="276.4" rx="2.0" ry="1.8" fill="#dadada"/><ellipse cx="1067.3" cy="272.7" rx="1.7" ry="1.9" fill="#eaeaea"/><ellipse cx="1069.8" cy="273.5" rx="1.6" ry="1.5" fill="#b8b8b8"/><ellipse cx="1069.7" cy="273.2" rx="1.9" ry="1.7" fill="#9d9d9d"/><ellipse cx="1066.5" cy="271.7" rx="2.0" ry="1.3" fill="#a6a6a6"/><ellipse cx="1065.3" cy="263.5" rx="2.2" ry="1.6" fill="#484848"/><ellipse cx="1064.5" cy="277.1" rx="2.3" ry="1.8" fill="#a1a1a1"/><ellipse cx="1065.4" cy="279.8" rx="1.8" ry="1.5" fill="#a0a0a0"/><ellipse cx="1070.1" cy="274.8" rx="1.7" ry="1.3" fill="#fcfcfc"/><ellipse cx="1065.8" cy="267.3" rx="2.1" ry="1.8" fill="#6d6d6d"/><ellipse cx="1068.0" cy="277.6" rx="2.3" ry="1.5" fill="#979797"/><ellipse cx="1072.0" cy="274.4" rx="1.7" ry="2.0" fill="#ebebeb"/><ellipse cx="1067.8" cy="277.5" rx="1.7" ry="1.6" fill="#979797"/><ellipse cx="1070.0" cy="276.7" rx="1.7" ry="2.0" fill="#b5b5b5"/><ellipse cx="1063.3" cy="273.1" rx="1.5" ry="1.6" fill="#9b9b9b"/><ellipse cx="1073.0" cy="280.0" rx="2.2" ry="1.5" fill="#b4b4b4"/><ellipse cx="1063.8" cy="268.6" rx="2.1" ry="1.3" fill="#bdbdbd"/><ellipse cx="1070.0" cy="270.5" rx="1.6" ry="1.3" fill="#a5a5a5"/><ellipse cx="1065.1" cy="277.3" rx="2.3" ry="1.4" fill="#a9a9a9"/><ellipse cx="1073.9" cy="275.2" rx="2.2" ry="1.6" fill="#efefef"/><ellipse cx="1062.1" cy="278.5" rx="1.8" ry="1.9" fill="#a5a5a5"/><rect x="1094.5" y="265.0" width="16.0" height="18.0" rx="3" fill="#626262"/><ellipse cx="1098.7" cy="267.0" rx="1.8" ry="1.9" fill="#575757"/><ellipse cx="1105.8" cy="282.0" rx="1.5" ry="1.3" fill="#4b4b4b"/><ellipse cx="1107.7" cy="273.6" rx="1.8" ry="1.5" fill="#ebebeb"/><ellipse cx="1108.2" cy="282.3" rx="1.7" ry="1.8" fill="#666666"/><ellipse cx="1100.2" cy="273.9" rx="2.2" ry="1.7" fill="#dddddd"/><ellipse cx="1108.0" cy="274.4" rx="1.7" ry="1.6" fill="#8f8f8f"/><ellipse cx="1108.2" cy="278.7" rx="1.8" ry="1.6" fill="#858585"/><ellipse cx="1107.8" cy="272.6" rx="2.1" ry="1.8" fill="#9d9d9d"/><ellipse cx="1106.5" cy="275.0" rx="1.8" ry="1.6" fill="#aeaeae"/><ellipse cx="1106.0" cy="267.2" rx="1.7" ry="1.8" fill="#5d5d5d"/><ellipse cx="1099.4" cy="275.2" rx="1.8" ry="2.0" fill="#c4c4c4"/><ellipse cx="1107.3" cy="274.5" rx="1.7" ry="1.4" fill="#f4f4f4"/><ellipse cx="1097.5" cy="266.1" rx="1.7" ry="1.6" fill="#646464"/><ellipse cx="1104.0" cy="274.1" rx="2.1" ry="1.9" fill="#d4d4d4"/><ellipse cx="1104.5" cy="280.9" rx="2.0" ry="1.6" fill="#696969"/><ellipse cx="1105.5" cy="280.6" rx="1.7" ry="1.5" fill="#676767"/><ellipse cx="1098.2" cy="278.9" rx="1.8" ry="2.0" fill="#898989"/><ellipse cx="1102.6" cy="269.6" rx="2.1" ry="1.8" fill="#888888"/><ellipse cx="1108.6" cy="278.5" rx="2.2" ry="1.9" fill="#b8b8b8"/><ellipse cx="1096.8" cy="277.4" rx="1.6" ry="1.4" fill="#999999"/><ellipse cx="1108.4" cy="264.0" rx="2.2" ry="1.6" fill="#414141"/><ellipse cx="1099.5" cy="268.2" rx="2.3" ry="1.4" fill="#9f9f9f"/><ellipse cx="1103.7" cy="271.4" rx="1.6" ry="1.4" fill="#a8a8a8"/><ellipse cx="1099.5" cy="271.6" rx="2.0" ry="1.4" fill="#c0c0c0"/><ellipse cx="1096.4" cy="270.5" rx="1.7" ry="1.4" fill="#8d8d8d"/><ellipse cx="1106.2" cy="280.7" rx="1.6" ry="1.4" fill="#7e7e7e"/><rect x="1112.0" y="265.0" width="16.5" height="18.0" rx="3" fill="#626262"/><ellipse cx="1118.8" cy="267.2" rx="1.6" ry="1.8" fill="#5e5e5e"/><ellipse cx="1119.0" cy="271.8" rx="1.7" ry="2.0" fill="#a2a2a2"/><ellipse cx="1117.8" cy="269.7" rx="2.2" ry="2.0" fill="#999999"/><ellipse cx="1118.4" cy="272.1" rx="2.1" ry="1.4" fill="#9c9c9c"/><ellipse cx="1113.8" cy="278.3" rx="1.8" ry="1.9" fill="#bdbdbd"/><ellipse cx="1119.7" cy="271.0" rx="1.5" ry="1.7" fill="#909090"/><ellipse cx="1122.0" cy="275.8" rx="1.8" ry="1.7" fill="#c8c8c8"/><ellipse cx="1115.6" cy="272.8" rx="1.9" ry="1.9" fill="#a8a8a8"/><ellipse cx="1115.2" cy="265.0" rx="1.7" ry="1.4" fill="#6a6a6a"/><ellipse cx="1125.9" cy="274.5" rx="1.9" ry="1.3" fill="#f3f3f3"/><ellipse cx="1125.7" cy="265.7" rx="2.2" ry="1.4" fill="#676767"/><ellipse cx="1123.9" cy="281.0" rx="1.8" ry="1.9" fill="#636363"/><ellipse cx="1124.4" cy="275.4" rx="1.9" ry="1.6" fill="#b3b3b3"/><ellipse cx="1115.3" cy="277.2" rx="2.1" ry="1.9" fill="#969696"/><ellipse cx="1114.3" cy="266.2" rx="2.2" ry="1.4" fill="#4e4e4e"/><ellipse cx="1121.5" cy="270.8" rx="2.0" ry="1.5" fill="#b3b3b3"/><ellipse cx="1119.2" cy="269.4" rx="1.9" ry="1.6" fill="#aaaaaa"/><ellipse cx="1114.1" cy="271.4" rx="1.9" ry="1.5" fill="#c0c0c0"/><ellipse cx="1123.6" cy="275.0" rx="1.9" ry="1.4" fill="#9e9e9e"/><ellipse cx="1115.4" cy="268.6" rx="1.6" ry="1.6" fill="#8a8a8a"/><ellipse cx="1120.3" cy="280.9" rx="2.1" ry="1.8" fill="#5c5c5c"/><ellipse cx="1120.3" cy="275.8" rx="1.9" ry="1.6" fill="#8e8e8e"/><ellipse cx="1126.0" cy="280.5" rx="2.1" ry="1.9" fill="#a0a0a0"/><ellipse cx="1116.2" cy="281.4" rx="1.9" ry="2.0" fill="#8b8b8b"/><ellipse cx="1125.6" cy="278.5" rx="1.6" ry="1.5" fill="#c3c3c3"/><ellipse cx="1123.5" cy="281.6" rx="2.2" ry="1.5" fill="#575757"/><rect x="1131.3" y="265.0" width="16.5" height="18.0" rx="3" fill="#626262"/><ellipse cx="1143.7" cy="277.7" rx="1.7" ry="1.5" fill="#c0c0c0"/><ellipse cx="1139.7" cy="278.6" rx="1.5" ry="1.4" fill="#818181"/><ellipse cx="1135.2" cy="281.0" rx="1.6" ry="1.8" fill="#858585"/><ellipse cx="1134.6" cy="271.1" rx="2.0" ry="1.6" fill="#a6a6a6"/><ellipse cx="1144.4" cy="267.8" rx="1.6" ry="2.0" fill="#929292"/><ellipse cx="1141.3" cy="271.8" rx="2.1" ry="1.5" fill="#a0a0a0"/><ellipse cx="1145.9" cy="269.8" rx="1.9" ry="1.4" fill="#ababab"/><ellipse cx="1142.7" cy="271.8" rx="2.2" ry="1.5" fill="#808080"/><ellipse cx="1141.4" cy="280.6" rx="1.8" ry="1.3" fill="#7d7d7d"/><ellipse cx="1133.6" cy="273.3" rx="2.0" ry="1.6" fill="#909090"/><ellipse cx="1139.8" cy="276.1" rx="2.0" ry="1.3" fill="#919191"/><ellipse cx="1133.2" cy="272.4" rx="1.6" ry="1.6" fill="#a0a0a0"/><ellipse cx="1136.0" cy="268.2" rx="2.0" ry="1.6" fill="#6b6b6b"/><ellipse cx="1134.9" cy="270.7" rx="1.7" ry="1.4" fill="#c5c5c5"/><ellipse cx="1134.4" cy="267.5" rx="1.8" ry="1.5" fill="#858585"/><ellipse cx="1133.3" cy="266.3" rx="1.9" ry="1.5" fill="#696969"/><ellipse cx="1141.5" cy="263.5" rx="1.7" ry="1.9" fill="#414141"/><ellipse cx="1133.7" cy="278.1" rx="1.8" ry="1.5" fill="#9a9a9a"/><ellipse cx="1133.9" cy="274.1" rx="2.3" ry="1.4" fill="#b8b8b8"/><ellipse cx="1135.7" cy="273.2" rx="1.9" ry="1.7" fill="#bcbcbc"/><ellipse cx="1143.6" cy="276.0" rx="1.5" ry="1.9" fill="#999999"/><ellipse cx="1143.3" cy="277.8" rx="1.5" ry="1.9" fill="#acacac"/><ellipse cx="1142.8" cy="266.0" rx="1.7" ry="1.4" fill="#5a5a5a"/><ellipse cx="1136.1" cy="275.8" rx="1.8" ry="1.8" fill="#828282"/><ellipse cx="1142.1" cy="278.4" rx="1.9" ry="1.6" fill="#7f7f7f"/><ellipse cx="1143.3" cy="267.5" rx="1.7" ry="1.7" fill="#757575"/><rect x="1172.5" y="265.0" width="13.5" height="18.0" rx="3" fill="#626262"/><ellipse cx="1183.9" cy="276.1" rx="1.7" ry="1.5" fill="#797979"/><ellipse cx="1181.7" cy="284.1" rx="2.1" ry="1.5" fill="#4c4c4c"/><ellipse cx="1183.1" cy="272.2" rx="2.0" ry="1.8" fill="#cccccc"/><ellipse cx="1180.9" cy="277.3" rx="1.9" ry="1.9" fill="#c3c3c3"/><ellipse cx="1181.3" cy="277.4" rx="2.0" ry="1.5" fill="#adadad"/><ellipse cx="1176.4" cy="269.8" rx="1.6" ry="1.9" fill="#9a9a9a"/><ellipse cx="1175.8" cy="276.3" rx="1.8" ry="1.4" fill="#c9c9c9"/><ellipse cx="1174.6" cy="274.4" rx="2.1" ry="1.7" fill="#818181"/><ellipse cx="1181.3" cy="273.8" rx="1.8" ry="1.9" fill="#b5b5b5"/><ellipse cx="1182.5" cy="272.2" rx="1.6" ry="1.9" fill="#cacaca"/><ellipse cx="1183.4" cy="276.2" rx="1.6" ry="1.3" fill="#8a8a8a"/><ellipse cx="1182.7" cy="273.2" rx="2.0" ry="1.9" fill="#c8c8c8"/><ellipse cx="1180.6" cy="273.5" rx="2.1" ry="1.4" fill="#868686"/><ellipse cx="1177.5" cy="276.2" rx="1.5" ry="1.5" fill="#9d9d9d"/><ellipse cx="1177.1" cy="273.0" rx="2.3" ry="1.7" fill="#9a9a9a"/><ellipse cx="1182.8" cy="269.3" rx="1.5" ry="1.6" fill="#939393"/><ellipse cx="1178.7" cy="274.7" rx="1.9" ry="1.5" fill="#bfbfbf"/><ellipse cx="1182.9" cy="269.4" rx="2.2" ry="1.4" fill="#6c6c6c"/><ellipse cx="1174.4" cy="276.5" rx="1.5" ry="1.6" fill="#cccccc"/><ellipse cx="1179.2" cy="282.1" rx="1.6" ry="1.6" fill="#676767"/><ellipse cx="1177.8" cy="275.9" rx="1.7" ry="1.5" fill="#cecece"/><ellipse cx="1181.3" cy="270.6" rx="1.6" ry="1.7" fill="#999999"/><ellipse cx="1175.2" cy="275.8" rx="2.0" ry="1.5" fill="#c1c1c1"/><ellipse cx="1178.3" cy="266.5" rx="2.2" ry="1.4" fill="#5b5b5b"/><ellipse cx="1183.1" cy="277.4" rx="2.2" ry="1.7" fill="#868686"/><ellipse cx="1178.1" cy="274.5" rx="1.7" ry="1.6" fill="#d0d0d0"/><rect x="1190.5" y="265.0" width="14.5" height="18.0" rx="3" fill="#626262"/><ellipse cx="1198.1" cy="274.2" rx="1.8" ry="1.5" fill="#c8c8c8"/><ellipse cx="1194.0" cy="265.6" rx="2.0" ry="1.8" fill="#6b6b6b"/><ellipse cx="1194.2" cy="266.0" rx="1.6" ry="1.6" fill="#646464"/><ellipse cx="1202.0" cy="277.2" rx="1.7" ry="1.5" fill="#8f8f8f"/><ellipse cx="1200.0" cy="275.6" rx="1.7" ry="1.5" fill="#929292"/><ellipse cx="1198.0" cy="271.6" rx="1.8" ry="1.4" fill="#8e8e8e"/><ellipse cx="1203.0" cy="273.7" rx="1.6" ry="1.6" fill="#e8e8e8"/><ellipse cx="1203.1" cy="271.7" rx="2.1" ry="1.6" fill="#cccccc"/><ellipse cx="1194.5" cy="272.5" rx="1.8" ry="1.3" fill="#989898"/><ellipse cx="1196.7" cy="272.2" rx="2.1" ry="1.7" fill="#cfcfcf"/><ellipse cx="1199.2" cy="271.3" rx="1.8" ry="1.8" fill="#b6b6b6"/><ellipse cx="1202.2" cy="274.6" rx="2.0" ry="1.8" fill="#b1b1b1"/><ellipse cx="1196.9" cy="275.1" rx="2.1" ry="1.8" fill="#dddddd"/><ellipse cx="1201.6" cy="281.9" rx="2.0" ry="1.6" fill="#6b6b6b"/><ellipse cx="1195.8" cy="272.4" rx="2.1" ry="1.8" fill="#adadad"/><ellipse cx="1199.2" cy="272.4" rx="1.8" ry="1.6" fill="#9c9c9c"/><ellipse cx="1199.1" cy="267.7" rx="1.6" ry="1.8" fill="#989898"/><ellipse cx="1200.8" cy="278.0" rx="1.9" ry="2.0" fill="#939393"/><ellipse cx="1192.8" cy="271.1" rx="2.3" ry="1.7" fill="#c5c5c5"/><ellipse cx="1193.5" cy="273.2" rx="1.9" ry="1.8" fill="#bfbfbf"/><ellipse cx="1197.9" cy="268.0" rx="1.8" ry="2.0" fill="#818181"/><ellipse cx="1194.6" cy="266.8" rx="1.8" ry="1.8" fill="#787878"/><ellipse cx="1193.7" cy="278.7" rx="1.7" ry="1.6" fill="#707070"/><ellipse cx="1192.5" cy="273.5" rx="1.8" ry="1.8" fill="#b1b1b1"/><ellipse cx="1196.2" cy="273.7" rx="2.3" ry="1.7" fill="#d1d1d1"/><ellipse cx="1194.7" cy="277.5" rx="1.8" ry="1.4" fill="#bdbdbd"/><rect x="1209.7" y="265.0" width="13.5" height="18.0" rx="3" fill="#626262"/><ellipse cx="1212.7" cy="275.5" rx="1.9" ry="1.7" fill="#b5b5b5"/><ellipse cx="1213.7" cy="265.0" rx="1.8" ry="1.7" fill="#5f5f5f"/><ellipse cx="1219.6" cy="276.3" rx="1.9" ry="1.4" fill="#919191"/><ellipse cx="1219.7" cy="268.9" rx="2.2" ry="1.5" fill="#797979"/><ellipse cx="1215.2" cy="273.9" rx="1.5" ry="1.8" fill="#8f8f8f"/><ellipse cx="1214.2" cy="279.3" rx="1.7" ry="1.6" fill="#707070"/><ellipse cx="1215.7" cy="269.2" rx="2.2" ry="1.9" fill="#7e7e7e"/><ellipse cx="1212.0" cy="268.4" rx="2.2" ry="1.8" fill="#949494"/><ellipse cx="1212.8" cy="277.5" rx="1.5" ry="2.0" fill="#707070"/><ellipse cx="1217.9" cy="267.8" rx="1.6" ry="1.4" fill="#656565"/><ellipse cx="1213.8" cy="274.8" rx="2.2" ry="1.9" fill="#8b8b8b"/><ellipse cx="1213.1" cy="269.5" rx="2.0" ry="1.8" fill="#a9a9a9"/><ellipse cx="1218.1" cy="280.9" rx="1.7" ry="1.8" fill="#7d7d7d"/><ellipse cx="1216.7" cy="268.6" rx="1.9" ry="1.9" fill="#909090"/><ellipse cx="1216.9" cy="273.7" rx="1.9" ry="1.3" fill="#8a8a8a"/><ellipse cx="1216.1" cy="277.6" rx="1.9" ry="1.6" fill="#797979"/><ellipse cx="1216.8" cy="274.4" rx="1.9" ry="1.7" fill="#cccccc"/><ellipse cx="1218.0" cy="273.6" rx="1.8" ry="1.6" fill="#cccccc"/><ellipse cx="1221.0" cy="280.3" rx="1.5" ry="1.7" fill="#7b7b7b"/><ellipse cx="1218.2" cy="277.2" rx="1.8" ry="2.0" fill="#bfbfbf"/><ellipse cx="1216.5" cy="263.5" rx="2.1" ry="1.7" fill="#2a2a2a"/><ellipse cx="1214.8" cy="275.0" rx="1.8" ry="1.6" fill="#cccccc"/><ellipse cx="1216.7" cy="274.4" rx="1.8" ry="1.7" fill="#a6a6a6"/><ellipse cx="1219.6" cy="270.6" rx="2.2" ry="1.6" fill="#888888"/><ellipse cx="1216.4" cy="273.2" rx="2.0" ry="1.9" fill="#d8d8d8"/><ellipse cx="1214.7" cy="279.9" rx="1.7" ry="1.7" fill="#6d6d6d"/><rect x="1227.8" y="265.0" width="16.0" height="18.0" rx="3" fill="#626262"/><ellipse cx="1237.5" cy="274.3" rx="2.2" ry="1.7" fill="#c8c8c8"/><ellipse cx="1230.2" cy="272.6" rx="1.5" ry="1.4" fill="#9c9c9c"/><ellipse cx="1241.0" cy="268.3" rx="2.2" ry="1.7" fill="#959595"/><ellipse cx="1237.2" cy="269.4" rx="2.1" ry="1.7" fill="#9a9a9a"/><ellipse cx="1238.0" cy="275.7" rx="2.1" ry="1.4" fill="#a9a9a9"/><ellipse cx="1231.8" cy="281.2" rx="2.1" ry="1.9" fill="#4e4e4e"/><ellipse cx="1237.7" cy="267.7" rx="1.9" ry="1.5" fill="#898989"/><ellipse cx="1233.3" cy="280.8" rx="1.8" ry="1.6" fill="#6a6a6a"/><ellipse cx="1237.6" cy="275.5" rx="1.5" ry="1.4" fill="#b5b5b5"/><ellipse cx="1239.6" cy="273.3" rx="2.2" ry="1.6" fill="#b9b9b9"/><ellipse cx="1229.8" cy="268.9" rx="2.3" ry="1.6" fill="#aaaaaa"/><ellipse cx="1234.7" cy="278.4" rx="2.0" ry="1.4" fill="#737373"/><ellipse cx="1231.5" cy="274.5" rx="1.6" ry="2.0" fill="#c4c4c4"/><ellipse cx="1230.7" cy="274.0" rx="1.6" ry="1.3" fill="#d7d7d7"/><ellipse cx="1238.5" cy="274.4" rx="1.5" ry="1.8" fill="#949494"/><ellipse cx="1238.4" cy="282.1" rx="2.1" ry="1.4" fill="#6d6d6d"/><ellipse cx="1237.4" cy="272.6" rx="1.7" ry="2.0" fill="#d9d9d9"/><ellipse cx="1238.5" cy="268.6" rx="1.5" ry="1.8" fill="#626262"/><ellipse cx="1239.7" cy="277.8" rx="1.6" ry="1.9" fill="#aeaeae"/><ellipse cx="1235.6" cy="276.1" rx="1.8" ry="1.7" fill="#828282"/><ellipse cx="1235.0" cy="272.8" rx="1.8" ry="1.8" fill="#cdcdcd"/><ellipse cx="1237.4" cy="271.5" rx="1.8" ry="1.9" fill="#a0a0a0"/><ellipse cx="1241.3" cy="275.4" rx="1.5" ry="2.0" fill="#9b9b9b"/><ellipse cx="1238.3" cy="267.7" rx="1.8" ry="1.7" fill="#8c8c8c"/><ellipse cx="1241.7" cy="277.3" rx="1.8" ry="1.9" fill="#8f8f8f"/><ellipse cx="1234.3" cy="268.1" rx="2.0" ry="1.9" fill="#8a8a8a"/><rect x="1153.5" y="265.7" width="6.0" height="16.6" rx="3" fill="#2b2b2b"/><ellipse cx="1157.2" cy="273.9" rx="1.8" ry="1.7" fill="#373737"/><ellipse cx="1157.3" cy="274.3" rx="1.5" ry="1.9" fill="#4c4c4c"/><ellipse cx="1157.2" cy="278.0" rx="2.2" ry="1.9" fill="#2d2d2d"/><ellipse cx="1156.9" cy="269.6" rx="1.8" ry="1.4" fill="#3d3d3d"/><rect x="827.5" y="265.7" width="4.0" height="16.6" rx="3" fill="#363636"/><ellipse cx="829.5" cy="274.9" rx="2.2" ry="1.5" fill="#5f5f5f"/><ellipse cx="829.5" cy="271.1" rx="1.9" ry="1.4" fill="#535353"/><ellipse cx="829.4" cy="274.1" rx="1.6" ry="1.9" fill="#525252"/><ellipse cx="829.6" cy="265.9" rx="2.0" ry="1.9" fill="#202020"/><ellipse cx="882.5" cy="209.5" rx="42.0" ry="12.5" fill="#4d4d4d"/><ellipse cx="912.9" cy="199.3" rx="1.4" ry="1.2" fill="#616161"/><ellipse cx="898.4" cy="220.0" rx="2.2" ry="1.7" fill="#696969"/><ellipse cx="915.9" cy="221.4" rx="2.0" ry="1.6" fill="#5e5e5e"/><ellipse cx="890.2" cy="198.6" rx="1.3" ry="1.2" fill="#b0b0b0"/><ellipse cx="887.7" cy="218.5" rx="1.8" ry="1.8" fill="#a5a5a5"/><ellipse cx="907.7" cy="201.3" rx="1.6" ry="1.8" fill="#787878"/><ellipse cx="845.2" cy="219.2" rx="1.8" ry="1.7" fill="#b3b3b3"/><ellipse cx="911.2" cy="199.9" rx="1.5" ry="1.5" fill="#969696"/><ellipse cx="918.6" cy="219.3" rx="2.3" ry="1.3" fill="#676767"/><ellipse cx="899.9" cy="221.7" rx="1.3" ry="1.4" fill="#505050"/><ellipse cx="915.6" cy="219.8" rx="1.3" ry="1.1" fill="#a3a3a3"/><ellipse cx="917.2" cy="218.8" rx="2.2" ry="1.1" fill="#727272"/><ellipse cx="863.3" cy="197.6" rx="1.8" ry="1.6" fill="#b5b5b5"/><ellipse cx="913.5" cy="199.1" rx="1.4" ry="1.7" fill="#555555"/><ellipse cx="891.9" cy="220.9" rx="2.4" ry="1.7" fill="#797979"/><ellipse cx="844.7" cy="221.9" rx="2.3" ry="1.4" fill="#959595"/><ellipse cx="854.3" cy="217.8" rx="1.9" ry="1.1" fill="#b0b0b0"/><ellipse cx="864.0" cy="218.2" rx="1.9" ry="1.2" fill="#a9a9a9"/><ellipse cx="863.6" cy="219.6" rx="1.3" ry="1.8" fill="#535353"/><ellipse cx="913.7" cy="218.5" rx="2.3" ry="1.1" fill="#a3a3a3"/><ellipse cx="919.7" cy="198.9" rx="2.4" ry="1.1" fill="#6e6e6e"/><ellipse cx="913.8" cy="220.8" rx="1.4" ry="1.5" fill="#7f7f7f"/><ellipse cx="883.1" cy="219.5" rx="1.4" ry="1.3" fill="#b5b5b5"/><ellipse cx="860.2" cy="199.6" rx="1.9" ry="1.2" fill="#616161"/><ellipse cx="890.5" cy="221.5" rx="2.2" ry="1.1" fill="#5c5c5c"/><ellipse cx="895.9" cy="218.4" rx="1.5" ry="1.1" fill="#a1a1a1"/><ellipse cx="875.2" cy="217.7" rx="1.6" ry="1.7" fill="#b0b0b0"/><ellipse cx="881.9" cy="221.6" rx="1.4" ry="1.5" fill="#696969"/><ellipse cx="887.5" cy="217.7" rx="1.9" ry="1.7" fill="#757575"/><ellipse cx="916.6" cy="217.8" rx="2.1" ry="1.7" fill="#b0b0b0"/><ellipse cx="868.4" cy="200.2" rx="1.6" ry="1.1" fill="#a0a0a0"/><ellipse cx="878.3" cy="197.1" rx="1.2" ry="1.8" fill="#666666"/><ellipse cx="857.4" cy="197.5" rx="1.2" ry="1.7" fill="#a1a1a1"/><ellipse cx="863.7" cy="220.4" rx="1.9" ry="1.6" fill="#585858"/><ellipse cx="911.7" cy="200.2" rx="1.8" ry="1.5" fill="#a4a4a4"/><ellipse cx="851.7" cy="197.5" rx="2.3" ry="1.1" fill="#8e8e8e"/><ellipse cx="902.0" cy="221.2" rx="2.1" ry="1.5" fill="#929292"/><ellipse cx="845.9" cy="217.7" rx="1.6" ry="1.2" fill="#737373"/><ellipse cx="877.4" cy="221.1" rx="2.3" ry="1.7" fill="#535353"/><ellipse cx="883.9" cy="201.3" rx="2.3" ry="1.5" fill="#4e4e4e"/><ellipse cx="851.6" cy="197.8" rx="1.9" ry="1.0" fill="#5c5c5c"/><ellipse cx="919.6" cy="200.5" rx="2.3" ry="1.7" fill="#b2b2b2"/><ellipse cx="845.7" cy="218.7" rx="2.0" ry="1.6" fill="#515151"/><ellipse cx="850.9" cy="197.5" rx="2.4" ry="1.2" fill="#707070"/><ellipse cx="894.2" cy="220.2" rx="1.3" ry="1.5" fill="#b7b7b7"/><ellipse cx="877.8" cy="221.5" rx="2.0" ry="1.2" fill="#a1a1a1"/><ellipse cx="901.5" cy="198.3" rx="2.0" ry="1.2" fill="#9e9e9e"/><ellipse cx="879.4" cy="220.3" rx="2.3" ry="1.0" fill="#737373"/><ellipse cx="857.9" cy="221.9" rx="1.2" ry="1.3" fill="#afafaf"/><ellipse cx="861.8" cy="219.7" rx="2.3" ry="1.2" fill="#535353"/><ellipse cx="844.7" cy="220.2" rx="1.8" ry="1.0" fill="#797979"/><ellipse cx="877.8" cy="200.3" rx="2.5" ry="1.5" fill="#b8b8b8"/><ellipse cx="875.9" cy="200.0" rx="2.0" ry="1.7" fill="#ababab"/><ellipse cx="883.9" cy="220.8" rx="1.5" ry="1.5" fill="#959595"/><ellipse cx="898.6" cy="218.0" rx="2.2" ry="1.5" fill="#868686"/><ellipse cx="919.1" cy="219.4" rx="2.3" ry="1.5" fill="#787878"/><ellipse cx="878.7" cy="220.8" rx="1.7" ry="1.4" fill="#919191"/><ellipse cx="894.2" cy="220.9" rx="1.7" ry="1.2" fill="#8a8a8a"/><ellipse cx="906.4" cy="199.0" rx="1.3" ry="1.7" fill="#727272"/><ellipse cx="909.6" cy="200.8" rx="2.5" ry="1.7" fill="#bababa"/><rect x="842.3" y="202.3" width="80.5" height="14.5" rx="2" fill="#fff"/></g><rect x="826.5" y="29.5" width="422.29999999999995" height="332.0" fill="none" stroke="#000" stroke-width="3"/><line x1="826.5" y1="361.7" x2="835.5" y2="361.7" stroke="#000" stroke-width="2.2"/><line x1="1248.8" y1="361.7" x2="1239.8" y2="361.7" stroke="#000" stroke-width="2.2"/><line x1="826.5" y1="311.3" x2="831.5" y2="311.3" stroke="#000" stroke-width="2.2"/><line x1="1248.8" y1="311.3" x2="1243.8" y2="311.3" stroke="#000" stroke-width="2.2"/><line x1="826.5" y1="260.9" x2="835.5" y2="260.9" stroke="#000" stroke-width="2.2"/><line x1="1248.8" y1="260.9" x2="1239.8" y2="260.9" stroke="#000" stroke-width="2.2"/><line x1="826.5" y1="210.6" x2="831.5" y2="210.6" stroke="#000" stroke-width="2.2"/><line x1="1248.8" y1="210.6" x2="1243.8" y2="210.6" stroke="#000" stroke-width="2.2"/><line x1="826.5" y1="160.2" x2="835.5" y2="160.2" stroke="#000" stroke-width="2.2"/><line x1="1248.8" y1="160.2" x2="1239.8" y2="160.2" stroke="#000" stroke-width="2.2"/><line x1="826.5" y1="109.8" x2="831.5" y2="109.8" stroke="#000" stroke-width="2.2"/><line x1="1248.8" y1="109.8" x2="1243.8" y2="109.8" stroke="#000" stroke-width="2.2"/><line x1="826.5" y1="59.4" x2="835.5" y2="59.4" stroke="#000" stroke-width="2.2"/><line x1="1248.8" y1="59.4" x2="1239.8" y2="59.4" stroke="#000" stroke-width="2.2"/><line x1="860.3" y1="361.5" x2="860.3" y2="352.5" stroke="#000" stroke-width="2.2"/><line x1="860.3" y1="29.5" x2="860.3" y2="38.5" stroke="#000" stroke-width="2.2"/><line x1="921.0" y1="361.5" x2="921.0" y2="356.5" stroke="#000" stroke-width="2.2"/><line x1="921.0" y1="29.5" x2="921.0" y2="34.5" stroke="#000" stroke-width="2.2"/><line x1="981.8" y1="361.5" x2="981.8" y2="352.5" stroke="#000" stroke-width="2.2"/><line x1="981.8" y1="29.5" x2="981.8" y2="38.5" stroke="#000" stroke-width="2.2"/><line x1="1042.5" y1="361.5" x2="1042.5" y2="356.5" stroke="#000" stroke-width="2.2"/><line x1="1042.5" y1="29.5" x2="1042.5" y2="34.5" stroke="#000" stroke-width="2.2"/><line x1="1103.3" y1="361.5" x2="1103.3" y2="352.5" stroke="#000" stroke-width="2.2"/><line x1="1103.3" y1="29.5" x2="1103.3" y2="38.5" stroke="#000" stroke-width="2.2"/><line x1="1164.0" y1="361.5" x2="1164.0" y2="356.5" stroke="#000" stroke-width="2.2"/><line x1="1164.0" y1="29.5" x2="1164.0" y2="34.5" stroke="#000" stroke-width="2.2"/><line x1="1224.8" y1="361.5" x2="1224.8" y2="352.5" stroke="#000" stroke-width="2.2"/><line x1="1224.8" y1="29.5" x2="1224.8" y2="38.5" stroke="#000" stroke-width="2.2"/><text x="817" y="369.8" text-anchor="end" font-family="Liberation Sans, sans-serif" font-size="23" fill="#000">0</text><text x="817" y="269.1" text-anchor="end" font-family="Liberation Sans, sans-serif" font-size="23" fill="#000">1</text><text x="817" y="168.3" text-anchor="end" font-family="Liberation Sans, sans-serif" font-size="23" fill="#000">2</text><text x="817" y="67.5" text-anchor="end" font-family="Liberation Sans, sans-serif" font-size="23" fill="#000">3</text><text x="859.8" y="389.6" text-anchor="middle" font-family="Liberation Sans, sans-serif" font-size="23" fill="#000">40</text><text x="981.3" y="389.6" text-anchor="middle" font-family="Liberation Sans, sans-serif" font-size="23" fill="#000">60</text><text x="1102.8" y="389.6" text-anchor="middle" font-family="Liberation Sans, sans-serif" font-size="23" fill="#000">80</text><text x="1224.3" y="389.6" text-anchor="middle" font-family="Liberation Sans, sans-serif" font-size="23" fill="#000">100</text><text x="1047.7" y="413" text-anchor="middle" font-family="Liberation Sans, sans-serif" font-size="23" fill="#000">Time (s)</text><text transform="translate(788.2 209.8) rotate(-90)" text-anchor="middle" font-family="Liberation Sans, sans-serif" font-size="22.5" fill="#000">Frequency (MHz)</text></svg></body></html>
